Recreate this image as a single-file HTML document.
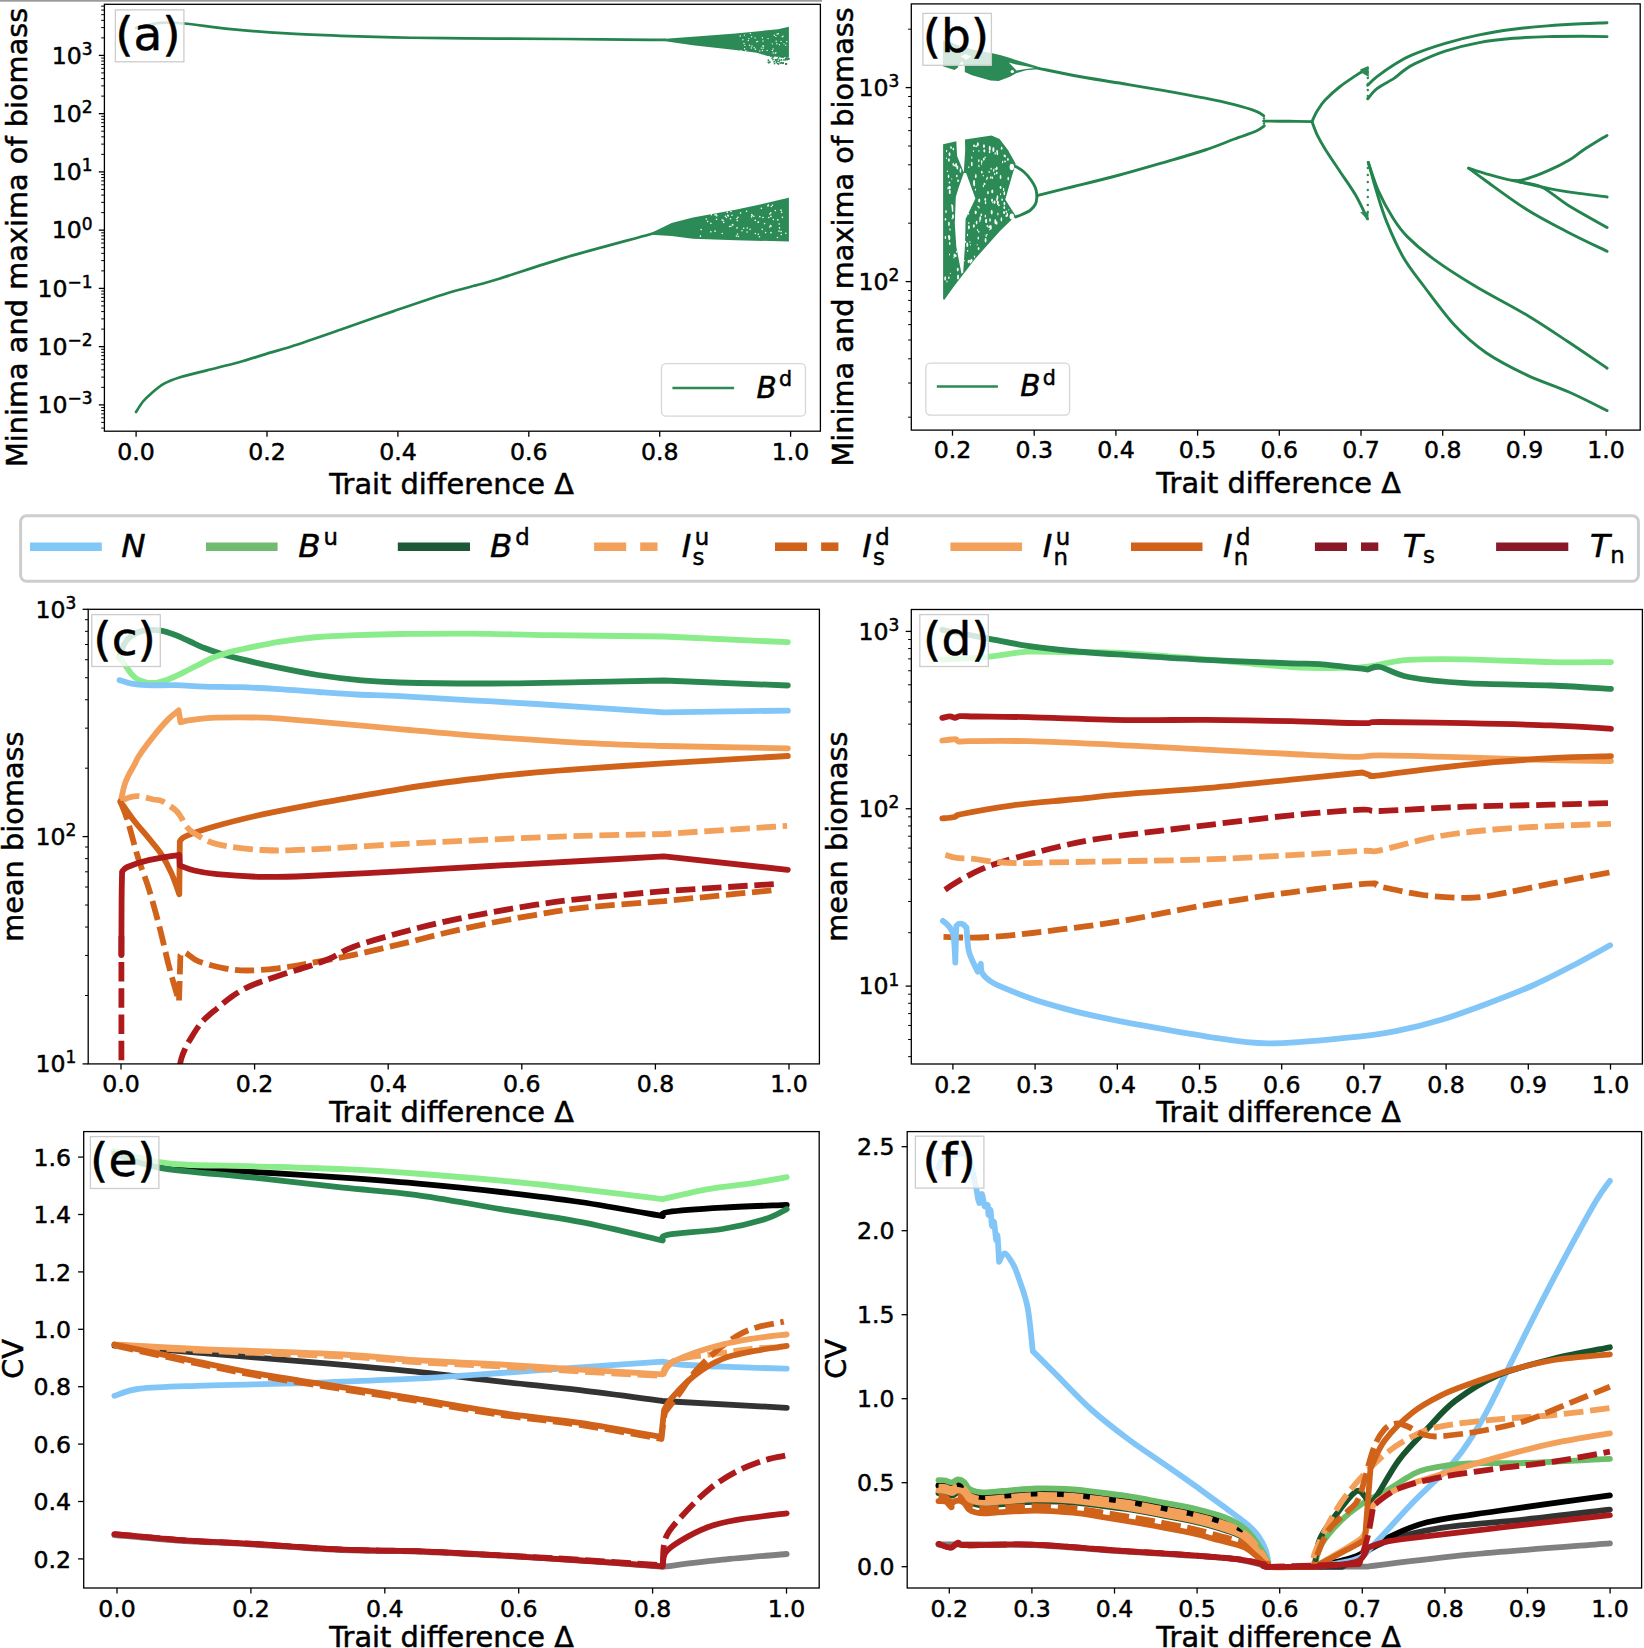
<!DOCTYPE html>
<html><head><meta charset="utf-8"><title>Figure</title>
<style>html,body{margin:0;padding:0;background:#fff;}svg{display:block;}</style>
</head><body>
<svg width="1644" height="1648" viewBox="0 0 1644 1648" font-family="'DejaVu Sans', 'Liberation Sans', sans-serif">
<style>text{fill:#000;stroke:#000;stroke-width:0.5px;stroke-linejoin:round;}</style>
<rect width="100%" height="100%" fill="#fff"/>
<rect x="0" y="0" width="822" height="1.7" fill="#9a9a9a"/>
<clipPath id="clipa"><rect x="104.4" y="4.3" width="716" height="426.9"/></clipPath>
<clipPath id="clipb"><rect x="911.3" y="3.9" width="728.9" height="426.2"/></clipPath>
<clipPath id="clipc"><rect x="88.2" y="609.3" width="731.2" height="454.6"/></clipPath>
<clipPath id="clipd"><rect x="911.3" y="609.5" width="731.1" height="454.5"/></clipPath>
<clipPath id="clipe"><rect x="83.7" y="1131.6" width="735.5" height="456.4"/></clipPath>
<clipPath id="clipf"><rect x="907.2" y="1131.6" width="734.4" height="456.4"/></clipPath>
<g clip-path="url(#clipa)">
<path d="M136.0,412.0 C137.2,410.2 140.6,404.5 143.0,401.5 C145.4,398.5 147.2,396.9 150.7,393.9 C154.2,390.9 159.2,386.5 164.1,383.7 C169.0,380.9 173.0,379.5 180.1,377.3 C187.2,375.1 197.0,372.9 206.8,370.4 C216.6,367.9 229.1,365.0 238.9,362.3 C248.7,359.6 255.8,357.1 265.6,354.1 C275.4,351.1 285.2,348.6 297.6,344.5 C310.1,340.4 324.3,335.4 340.3,329.8 C356.3,324.2 375.9,317.2 393.7,311.1 C411.5,305.0 432.7,297.7 447.1,293.2 C461.5,288.7 471.2,286.8 480.0,284.3 C488.8,281.9 485.8,282.9 500.0,278.5 C514.2,274.1 540.2,265.0 565.2,257.6 C590.2,250.2 634.2,238.7 650.3,234.2 C666.4,229.7 660.0,231.2 662.0,230.6" fill="none" stroke="#23844e" stroke-width="2.7" stroke-linejoin="round" stroke-linecap="round"/>
<path d="M136.0,28.0 C138.3,27.4 145.3,25.4 150.0,24.5 C154.7,23.6 158.4,22.9 164.1,22.7 C169.8,22.5 172.5,22.4 184.1,23.5 C195.7,24.6 216.4,27.8 233.5,29.4 C250.6,31.0 269.1,32.3 286.9,33.4 C304.7,34.5 322.5,35.1 340.3,35.8 C358.1,36.5 375.9,37.0 393.7,37.4 C411.5,37.8 429.4,38.0 447.1,38.2 C464.8,38.4 480.3,38.5 500.0,38.6 C519.7,38.7 540.2,38.8 565.2,39.0 C590.2,39.2 633.7,39.7 650.3,39.8 C666.9,39.9 662.5,39.8 665.0,39.8" fill="none" stroke="#23844e" stroke-width="2.7" stroke-linejoin="round" stroke-linecap="round"/>
<path d="M648.0,234.6 L671.6,223.0 L692.9,217.5 L735.5,209.8 L760.0,204.5 L787.6,198.0 L788.9,197.5 L788.9,241.5 L735.5,240.2 L692.9,238.8 L671.6,236.0 L655.0,235.0Z" fill="#2b8a55"/>
<path d="M648.0,39.9 L692.9,36.8 L735.5,33.6 L778.1,29.2 L788.9,26.8 L788.9,57.5 L780.0,57.0 L767.4,56.0 L756.8,52.8 L735.5,50.0 L692.9,45.2 L660.0,40.6Z" fill="#2b8a55"/>
<circle cx="773" cy="59.44" r="0.9" fill="#2b8a55"/>
<circle cx="775.77" cy="60.04" r="0.9" fill="#2b8a55"/>
<circle cx="781.14" cy="54.66" r="0.9" fill="#2b8a55"/>
<circle cx="768.28" cy="62.37" r="0.9" fill="#2b8a55"/>
<circle cx="773.45" cy="56.34" r="0.9" fill="#2b8a55"/>
<circle cx="788.91" cy="58.7" r="0.9" fill="#2b8a55"/>
<circle cx="785.57" cy="58.76" r="0.9" fill="#2b8a55"/>
<circle cx="781.42" cy="55.51" r="0.9" fill="#2b8a55"/>
<circle cx="781.33" cy="62.68" r="0.9" fill="#2b8a55"/>
<circle cx="778.99" cy="61.41" r="0.9" fill="#2b8a55"/>
<circle cx="782.1" cy="54.64" r="0.9" fill="#2b8a55"/>
<circle cx="783.92" cy="59.91" r="0.9" fill="#2b8a55"/>
<circle cx="774.33" cy="54.31" r="0.9" fill="#2b8a55"/>
<circle cx="786.18" cy="58.73" r="0.9" fill="#2b8a55"/>
<circle cx="783.1" cy="62.79" r="0.9" fill="#2b8a55"/>
<circle cx="783" cy="63.21" r="0.9" fill="#2b8a55"/>
<circle cx="776.29" cy="62.01" r="0.9" fill="#2b8a55"/>
<circle cx="777.34" cy="63.36" r="0.9" fill="#2b8a55"/>
<circle cx="786.46" cy="54.97" r="0.9" fill="#2b8a55"/>
<circle cx="770.86" cy="56.17" r="0.9" fill="#2b8a55"/>
<circle cx="788.28" cy="58.36" r="0.9" fill="#2b8a55"/>
<circle cx="781.16" cy="57.01" r="0.9" fill="#2b8a55"/>
<circle cx="778.65" cy="57.86" r="0.9" fill="#2b8a55"/>
<circle cx="775.37" cy="59.85" r="0.9" fill="#2b8a55"/>
<circle cx="780.27" cy="63.04" r="0.9" fill="#2b8a55"/>
<circle cx="782.32" cy="63.29" r="0.9" fill="#2b8a55"/>
<circle cx="785.98" cy="63.91" r="0.9" fill="#2b8a55"/>
<circle cx="782.1" cy="55.63" r="0.9" fill="#2b8a55"/>
<circle cx="786.07" cy="63.65" r="0.9" fill="#2b8a55"/>
<circle cx="787" cy="59.69" r="0.9" fill="#2b8a55"/>
<circle cx="782.99" cy="56.11" r="0.9" fill="#2b8a55"/>
<circle cx="785.46" cy="59.74" r="0.9" fill="#2b8a55"/>
<circle cx="773.98" cy="54.63" r="0.9" fill="#2b8a55"/>
<circle cx="785.93" cy="63.9" r="0.9" fill="#2b8a55"/>
<circle cx="769.86" cy="62.01" r="0.9" fill="#2b8a55"/>
<circle cx="776.62" cy="55.51" r="0.9" fill="#2b8a55"/>
<circle cx="774.17" cy="61.69" r="0.9" fill="#2b8a55"/>
<circle cx="786.33" cy="54.44" r="0.9" fill="#2b8a55"/>
<circle cx="780.91" cy="54.45" r="0.9" fill="#2b8a55"/>
<circle cx="783.09" cy="57.31" r="0.9" fill="#2b8a55"/>
<circle cx="786.5" cy="63.81" r="0.9" fill="#2b8a55"/>
<circle cx="778.61" cy="63.99" r="0.9" fill="#2b8a55"/>
<circle cx="774.5" cy="54.77" r="0.9" fill="#2b8a55"/>
<circle cx="780.6" cy="54.31" r="0.9" fill="#2b8a55"/>
<circle cx="772.15" cy="58.08" r="0.9" fill="#2b8a55"/>
<circle cx="780.82" cy="55.56" r="0.9" fill="#2b8a55"/>
<circle cx="768.89" cy="62.68" r="0.9" fill="#2b8a55"/>
<circle cx="774.59" cy="63.59" r="0.9" fill="#2b8a55"/>
<circle cx="786.83" cy="57.78" r="0.9" fill="#2b8a55"/>
<circle cx="777.67" cy="59.2" r="0.9" fill="#2b8a55"/>
<circle cx="781.52" cy="59.96" r="0.9" fill="#2b8a55"/>
<circle cx="779.74" cy="60.2" r="0.9" fill="#2b8a55"/>
<circle cx="787.75" cy="59.07" r="0.9" fill="#2b8a55"/>
<circle cx="777.06" cy="61.2" r="0.9" fill="#2b8a55"/>
<circle cx="772.99" cy="57.01" r="0.9" fill="#2b8a55"/>
<circle cx="788.53" cy="59.21" r="0.9" fill="#2b8a55"/>
<circle cx="779.52" cy="54.11" r="0.9" fill="#2b8a55"/>
<circle cx="776.72" cy="59.8" r="0.9" fill="#2b8a55"/>
<circle cx="768.42" cy="60.16" r="0.9" fill="#2b8a55"/>
<circle cx="781.28" cy="54.6" r="0.9" fill="#2b8a55"/>
<circle cx="755.21" cy="220.39" r="0.8" fill="#fff"/>
<circle cx="759.78" cy="216.64" r="0.8" fill="#fff"/>
<circle cx="762.21" cy="229.36" r="0.8" fill="#fff"/>
<circle cx="701.95" cy="207" r="0.8" fill="#fff"/>
<circle cx="759.49" cy="236.79" r="0.8" fill="#fff"/>
<circle cx="722.1" cy="220.06" r="0.8" fill="#fff"/>
<circle cx="752.16" cy="215.56" r="0.8" fill="#fff"/>
<circle cx="732.03" cy="215.32" r="0.8" fill="#fff"/>
<circle cx="732.49" cy="224.66" r="0.8" fill="#fff"/>
<circle cx="726.44" cy="217.45" r="0.8" fill="#fff"/>
<circle cx="767.96" cy="205.89" r="0.8" fill="#fff"/>
<circle cx="750.09" cy="229.26" r="0.8" fill="#fff"/>
<circle cx="727.28" cy="212.34" r="0.8" fill="#fff"/>
<circle cx="770.74" cy="212.88" r="0.8" fill="#fff"/>
<circle cx="716.49" cy="219.36" r="0.8" fill="#fff"/>
<circle cx="761.43" cy="208.36" r="0.8" fill="#fff"/>
<circle cx="728.33" cy="216.01" r="0.8" fill="#fff"/>
<circle cx="773.35" cy="219.47" r="0.8" fill="#fff"/>
<circle cx="775.29" cy="210.59" r="0.8" fill="#fff"/>
<circle cx="729.63" cy="226.46" r="0.8" fill="#fff"/>
<circle cx="777.87" cy="219.89" r="0.8" fill="#fff"/>
<circle cx="719.8" cy="208.99" r="0.8" fill="#fff"/>
<circle cx="746.61" cy="211.3" r="0.8" fill="#fff"/>
<circle cx="771" cy="232.67" r="0.8" fill="#fff"/>
<circle cx="716.16" cy="214.19" r="0.8" fill="#fff"/>
<circle cx="771.04" cy="226.18" r="0.8" fill="#fff"/>
<circle cx="770.95" cy="216.39" r="0.8" fill="#fff"/>
<circle cx="711.41" cy="214.63" r="0.8" fill="#fff"/>
<circle cx="769.86" cy="213.95" r="0.8" fill="#fff"/>
<circle cx="730.48" cy="218.76" r="0.8" fill="#fff"/>
<circle cx="736.94" cy="218.51" r="0.8" fill="#fff"/>
<circle cx="781.01" cy="210.15" r="0.8" fill="#fff"/>
<circle cx="700.41" cy="236.13" r="0.8" fill="#fff"/>
<circle cx="777.44" cy="237.57" r="0.8" fill="#fff"/>
<circle cx="738.22" cy="236.36" r="0.8" fill="#fff"/>
<circle cx="781.61" cy="212.33" r="0.8" fill="#fff"/>
<circle cx="765.61" cy="232.61" r="0.8" fill="#fff"/>
<circle cx="758.34" cy="222.13" r="0.8" fill="#fff"/>
<circle cx="725.44" cy="216.26" r="0.8" fill="#fff"/>
<circle cx="720.02" cy="207.25" r="0.8" fill="#fff"/>
<circle cx="751.8" cy="214.47" r="0.8" fill="#fff"/>
<circle cx="771.3" cy="206.49" r="0.8" fill="#fff"/>
<circle cx="779.52" cy="227.89" r="0.8" fill="#fff"/>
<circle cx="781.3" cy="234.59" r="0.8" fill="#fff"/>
<circle cx="779.17" cy="224.04" r="0.8" fill="#fff"/>
<circle cx="701.16" cy="229.59" r="0.8" fill="#fff"/>
<circle cx="715.12" cy="214.9" r="0.8" fill="#fff"/>
<circle cx="758.33" cy="222.32" r="0.8" fill="#fff"/>
<circle cx="736.41" cy="235.99" r="0.8" fill="#fff"/>
<circle cx="753.87" cy="216.26" r="0.8" fill="#fff"/>
<circle cx="722.22" cy="233.43" r="0.8" fill="#fff"/>
<circle cx="741.99" cy="230.82" r="0.8" fill="#fff"/>
<circle cx="730.96" cy="211.51" r="0.8" fill="#fff"/>
<circle cx="747.05" cy="231.95" r="0.8" fill="#fff"/>
<circle cx="715.07" cy="231.13" r="0.8" fill="#fff"/>
<circle cx="781.12" cy="231.6" r="0.8" fill="#fff"/>
<circle cx="772.47" cy="205.25" r="0.8" fill="#fff"/>
<circle cx="755.32" cy="233.46" r="0.8" fill="#fff"/>
<circle cx="704.39" cy="213.96" r="0.8" fill="#fff"/>
<circle cx="723.64" cy="222.4" r="0.8" fill="#fff"/>
<circle cx="737.22" cy="220.61" r="0.8" fill="#fff"/>
<circle cx="768.33" cy="205.06" r="0.8" fill="#fff"/>
<circle cx="704.83" cy="209.19" r="0.8" fill="#fff"/>
<circle cx="710.97" cy="207.26" r="0.8" fill="#fff"/>
<circle cx="785.77" cy="233.2" r="0.8" fill="#fff"/>
<circle cx="707.58" cy="221.57" r="0.8" fill="#fff"/>
<circle cx="727.8" cy="215.38" r="0.8" fill="#fff"/>
<circle cx="730.91" cy="226.35" r="0.8" fill="#fff"/>
<circle cx="751.62" cy="216.91" r="0.8" fill="#fff"/>
<circle cx="716.82" cy="215.85" r="0.8" fill="#fff"/>
<circle cx="710.89" cy="223.33" r="0.8" fill="#fff"/>
<circle cx="763.01" cy="217.55" r="0.8" fill="#fff"/>
<circle cx="707.03" cy="210.89" r="0.8" fill="#fff"/>
<circle cx="732.85" cy="224.95" r="0.8" fill="#fff"/>
<circle cx="768.87" cy="217.55" r="0.8" fill="#fff"/>
<circle cx="770.5" cy="225.56" r="0.8" fill="#fff"/>
<circle cx="737.98" cy="217.29" r="0.8" fill="#fff"/>
<circle cx="743.66" cy="228.2" r="0.8" fill="#fff"/>
<circle cx="737.01" cy="227.91" r="0.8" fill="#fff"/>
<circle cx="740.55" cy="213.09" r="0.8" fill="#fff"/>
<circle cx="747.15" cy="227.94" r="0.8" fill="#fff"/>
<circle cx="706.3" cy="219.02" r="0.8" fill="#fff"/>
<circle cx="737.48" cy="234.03" r="0.8" fill="#fff"/>
<circle cx="782.41" cy="217.35" r="0.8" fill="#fff"/>
<circle cx="779.01" cy="231.1" r="0.8" fill="#fff"/>
<circle cx="723.07" cy="220.32" r="0.8" fill="#fff"/>
<circle cx="710.84" cy="231.84" r="0.8" fill="#fff"/>
<circle cx="758.28" cy="234.28" r="0.8" fill="#fff"/>
<circle cx="769.74" cy="227.03" r="0.8" fill="#fff"/>
<circle cx="764.57" cy="223.61" r="0.8" fill="#fff"/>
<circle cx="744.95" cy="45.34" r="0.7" fill="#fff"/>
<circle cx="740.24" cy="36.01" r="0.7" fill="#fff"/>
<circle cx="777.17" cy="33.93" r="0.7" fill="#fff"/>
<circle cx="744.41" cy="35.09" r="0.7" fill="#fff"/>
<circle cx="782.26" cy="36.76" r="0.7" fill="#fff"/>
<circle cx="741.13" cy="50.67" r="0.7" fill="#fff"/>
<circle cx="745.82" cy="50.72" r="0.7" fill="#fff"/>
<circle cx="772.33" cy="50.56" r="0.7" fill="#fff"/>
<circle cx="785.72" cy="45.16" r="0.7" fill="#fff"/>
<circle cx="778.34" cy="33.76" r="0.7" fill="#fff"/>
<circle cx="776.84" cy="43.74" r="0.7" fill="#fff"/>
<circle cx="774.33" cy="35.24" r="0.7" fill="#fff"/>
<circle cx="775.95" cy="52.63" r="0.7" fill="#fff"/>
<circle cx="742.93" cy="39.81" r="0.7" fill="#fff"/>
<circle cx="767.07" cy="50.39" r="0.7" fill="#fff"/>
<circle cx="751.62" cy="36.78" r="0.7" fill="#fff"/>
<circle cx="752" cy="45.94" r="0.7" fill="#fff"/>
<circle cx="776.17" cy="41.27" r="0.7" fill="#fff"/>
<circle cx="757.64" cy="41.33" r="0.7" fill="#fff"/>
<circle cx="756.81" cy="41.78" r="0.7" fill="#fff"/>
<circle cx="744" cy="43.51" r="0.7" fill="#fff"/>
<circle cx="786.71" cy="41.67" r="0.7" fill="#fff"/>
<circle cx="775.88" cy="36.37" r="0.7" fill="#fff"/>
<circle cx="773.16" cy="48.88" r="0.7" fill="#fff"/>
<circle cx="772.35" cy="43.86" r="0.7" fill="#fff"/>
<circle cx="763.22" cy="46.5" r="0.7" fill="#fff"/>
<circle cx="783.08" cy="36.14" r="0.7" fill="#fff"/>
<circle cx="744.6" cy="48.71" r="0.7" fill="#fff"/>
<circle cx="784" cy="43.86" r="0.7" fill="#fff"/>
<circle cx="761.27" cy="48.1" r="0.7" fill="#fff"/>
<circle cx="748.93" cy="38.61" r="0.7" fill="#fff"/>
<circle cx="749.56" cy="45.3" r="0.7" fill="#fff"/>
<circle cx="755.11" cy="37.88" r="0.7" fill="#fff"/>
<circle cx="773.17" cy="53.02" r="0.7" fill="#fff"/>
<circle cx="754.2" cy="47.81" r="0.7" fill="#fff"/>
<circle cx="759.83" cy="50.93" r="0.7" fill="#fff"/>
<circle cx="768.06" cy="38.61" r="0.7" fill="#fff"/>
<circle cx="750.45" cy="33.49" r="0.7" fill="#fff"/>
<circle cx="763.02" cy="41.04" r="0.7" fill="#fff"/>
<circle cx="748.27" cy="40.57" r="0.7" fill="#fff"/>
<circle cx="755.46" cy="49.26" r="0.7" fill="#fff"/>
<circle cx="746.89" cy="53.82" r="0.7" fill="#fff"/>
<circle cx="763.02" cy="45.58" r="0.7" fill="#fff"/>
<circle cx="762.47" cy="50.53" r="0.7" fill="#fff"/>
<circle cx="779.44" cy="44.7" r="0.7" fill="#fff"/>
<circle cx="763.1" cy="48.13" r="0.7" fill="#fff"/>
<circle cx="781.12" cy="41.41" r="0.7" fill="#fff"/>
<circle cx="775.21" cy="53.17" r="0.7" fill="#fff"/>
<circle cx="762.43" cy="37.82" r="0.7" fill="#fff"/>
<circle cx="751.27" cy="48.07" r="0.7" fill="#fff"/>
</g>
<g clip-path="url(#clipb)">
<path d="M943.1,144.2 L956.3,141.3 L957.1,156.0 L963.8,172.5 L965.2,150.0 L965.0,139.6 L991.5,135.6 L999.6,139.0 L1008.0,150.0 L1015.7,163.8 L1012.0,176.0 L1005.3,199.6 L1010.0,207.0 L1015.7,215.7 L1000.0,231.0 L975.0,259.0 L955.0,285.0 L944.2,299.9 L943.1,299.0Z" fill="#2b8a55"/>
<path d="M963.8,173.0 L958.5,188.0 L955.8,197.0 L954.8,223.8 L956.3,246.8 L961.5,273.7 L963.2,272.4 L965.0,245.0 L965.6,219.0 L975.4,198.4 L966.1,173.0Z" fill="#fff"/>
<ellipse cx="973.86" cy="225.97" rx="0.96" ry="1.68" fill="#fff"/>
<ellipse cx="977.52" cy="230.11" rx="0.59" ry="1.08" fill="#fff"/>
<ellipse cx="950.21" cy="187.51" rx="0.55" ry="1.25" fill="#fff"/>
<ellipse cx="989.77" cy="148.28" rx="0.99" ry="2.52" fill="#fff"/>
<ellipse cx="987.16" cy="234.33" rx="0.58" ry="0.59" fill="#fff"/>
<ellipse cx="978.87" cy="150.93" rx="0.6" ry="0.83" fill="#fff"/>
<ellipse cx="945.99" cy="211.59" rx="0.72" ry="1.69" fill="#fff"/>
<ellipse cx="978.26" cy="238.04" rx="0.75" ry="1.54" fill="#fff"/>
<ellipse cx="974.18" cy="183.72" rx="1" ry="2.59" fill="#fff"/>
<ellipse cx="994.58" cy="202.06" rx="0.92" ry="1.49" fill="#fff"/>
<ellipse cx="1004.08" cy="212.5" rx="0.99" ry="1.62" fill="#fff"/>
<ellipse cx="948.82" cy="236.42" rx="0.89" ry="1.27" fill="#fff"/>
<ellipse cx="949.75" cy="191.89" rx="0.98" ry="2.17" fill="#fff"/>
<ellipse cx="951.79" cy="178.96" rx="0.55" ry="0.6" fill="#fff"/>
<ellipse cx="996.6" cy="168.65" rx="0.78" ry="1.34" fill="#fff"/>
<ellipse cx="956.59" cy="251.78" rx="0.57" ry="1.15" fill="#fff"/>
<ellipse cx="951.69" cy="205.11" rx="0.61" ry="0.87" fill="#fff"/>
<ellipse cx="958.07" cy="180.74" rx="0.89" ry="1.35" fill="#fff"/>
<ellipse cx="949.95" cy="229.41" rx="0.62" ry="1.22" fill="#fff"/>
<ellipse cx="1007.3" cy="214.56" rx="0.79" ry="1.88" fill="#fff"/>
<ellipse cx="956.07" cy="165.12" rx="0.95" ry="2.2" fill="#fff"/>
<ellipse cx="960.47" cy="170.47" rx="0.87" ry="2.18" fill="#fff"/>
<ellipse cx="971.82" cy="157.58" rx="0.52" ry="1.32" fill="#fff"/>
<ellipse cx="983.37" cy="186.02" rx="0.59" ry="1.27" fill="#fff"/>
<ellipse cx="948.54" cy="176.26" rx="0.78" ry="1.84" fill="#fff"/>
<ellipse cx="984.54" cy="184.03" rx="0.96" ry="1.27" fill="#fff"/>
<ellipse cx="973.42" cy="151.07" rx="0.59" ry="0.94" fill="#fff"/>
<ellipse cx="981.76" cy="161.74" rx="0.68" ry="1.65" fill="#fff"/>
<ellipse cx="989.62" cy="229.67" rx="0.57" ry="0.6" fill="#fff"/>
<ellipse cx="945.18" cy="278.53" rx="0.85" ry="2.16" fill="#fff"/>
<ellipse cx="945.4" cy="237.43" rx="0.74" ry="1.61" fill="#fff"/>
<ellipse cx="948.97" cy="223.91" rx="0.87" ry="2.12" fill="#fff"/>
<ellipse cx="967.22" cy="244.77" rx="0.95" ry="2.28" fill="#fff"/>
<ellipse cx="971.53" cy="260.58" rx="0.93" ry="1.79" fill="#fff"/>
<ellipse cx="985.25" cy="199.35" rx="0.79" ry="1.56" fill="#fff"/>
<ellipse cx="949.29" cy="237.91" rx="1" ry="2.4" fill="#fff"/>
<ellipse cx="992.06" cy="200.27" rx="0.87" ry="1.67" fill="#fff"/>
<ellipse cx="949.53" cy="254.53" rx="0.51" ry="1.01" fill="#fff"/>
<ellipse cx="975.74" cy="176.53" rx="0.85" ry="1.52" fill="#fff"/>
<ellipse cx="957.37" cy="167.44" rx="0.95" ry="1.96" fill="#fff"/>
<ellipse cx="965.58" cy="241.88" rx="0.6" ry="1.01" fill="#fff"/>
<ellipse cx="1002.1" cy="199.66" rx="0.79" ry="1.19" fill="#fff"/>
<ellipse cx="952.99" cy="216.47" rx="0.92" ry="2.17" fill="#fff"/>
<ellipse cx="973.74" cy="183.27" rx="0.61" ry="1.01" fill="#fff"/>
<ellipse cx="985.3" cy="216.08" rx="0.66" ry="1.54" fill="#fff"/>
<ellipse cx="1008.81" cy="209.87" rx="0.54" ry="0.56" fill="#fff"/>
<ellipse cx="1001.61" cy="148.22" rx="0.85" ry="1.63" fill="#fff"/>
<ellipse cx="964.4" cy="260.73" rx="0.51" ry="0.62" fill="#fff"/>
<ellipse cx="974.02" cy="145.71" rx="0.91" ry="1.26" fill="#fff"/>
<ellipse cx="953.3" cy="149.04" rx="0.81" ry="1.4" fill="#fff"/>
<ellipse cx="985.58" cy="240.26" rx="0.9" ry="2.29" fill="#fff"/>
<ellipse cx="989.18" cy="171.9" rx="0.74" ry="0.95" fill="#fff"/>
<ellipse cx="991.14" cy="168.86" rx="0.64" ry="0.99" fill="#fff"/>
<ellipse cx="990.02" cy="220.06" rx="0.81" ry="1.78" fill="#fff"/>
<ellipse cx="969.97" cy="260.79" rx="0.95" ry="1.09" fill="#fff"/>
<ellipse cx="952.57" cy="210.03" rx="0.81" ry="2" fill="#fff"/>
<ellipse cx="968.87" cy="227.32" rx="0.94" ry="2.14" fill="#fff"/>
<ellipse cx="1006.32" cy="211.56" rx="0.83" ry="1.1" fill="#fff"/>
<ellipse cx="958.08" cy="277" rx="0.99" ry="2.54" fill="#fff"/>
<ellipse cx="1000.48" cy="194.28" rx="0.54" ry="0.92" fill="#fff"/>
<ellipse cx="976.17" cy="146.26" rx="0.9" ry="1" fill="#fff"/>
<ellipse cx="996.79" cy="167.93" rx="0.67" ry="1.51" fill="#fff"/>
<ellipse cx="953.27" cy="164.3" rx="0.76" ry="1.64" fill="#fff"/>
<ellipse cx="1006.42" cy="215.89" rx="0.97" ry="1.11" fill="#fff"/>
<ellipse cx="986.17" cy="220.42" rx="0.92" ry="1.75" fill="#fff"/>
<ellipse cx="957.74" cy="269.62" rx="0.98" ry="1.81" fill="#fff"/>
<ellipse cx="981.82" cy="172.15" rx="0.77" ry="1.39" fill="#fff"/>
<ellipse cx="983.95" cy="146.16" rx="0.98" ry="1.8" fill="#fff"/>
<ellipse cx="970.44" cy="262.16" rx="0.78" ry="1.4" fill="#fff"/>
<ellipse cx="989.61" cy="151.89" rx="0.77" ry="1.28" fill="#fff"/>
<ellipse cx="952.38" cy="207.05" rx="0.91" ry="2.22" fill="#fff"/>
<ellipse cx="975.45" cy="189.58" rx="0.6" ry="1.18" fill="#fff"/>
<ellipse cx="1005.07" cy="161.42" rx="0.89" ry="0.92" fill="#fff"/>
<ellipse cx="956.81" cy="176.09" rx="0.84" ry="1.28" fill="#fff"/>
<ellipse cx="967.45" cy="234.96" rx="0.55" ry="1.2" fill="#fff"/>
<ellipse cx="952.1" cy="218.57" rx="0.63" ry="0.82" fill="#fff"/>
<ellipse cx="979" cy="207.52" rx="0.69" ry="1.14" fill="#fff"/>
<ellipse cx="978.94" cy="165.96" rx="0.6" ry="1.21" fill="#fff"/>
<ellipse cx="986.14" cy="221.44" rx="0.93" ry="1.83" fill="#fff"/>
<ellipse cx="1000.55" cy="176.9" rx="0.87" ry="2" fill="#fff"/>
<ellipse cx="1003.58" cy="189.38" rx="0.66" ry="1.63" fill="#fff"/>
<ellipse cx="1002.58" cy="162.09" rx="0.62" ry="1.34" fill="#fff"/>
<ellipse cx="998.92" cy="205.24" rx="0.89" ry="1.08" fill="#fff"/>
<ellipse cx="970.58" cy="244.78" rx="0.51" ry="0.67" fill="#fff"/>
<ellipse cx="1007.91" cy="159.31" rx="0.75" ry="1.67" fill="#fff"/>
<ellipse cx="977.18" cy="244.85" rx="0.59" ry="0.66" fill="#fff"/>
<ellipse cx="951.01" cy="147.62" rx="0.78" ry="1.41" fill="#fff"/>
<ellipse cx="981.54" cy="163.98" rx="0.59" ry="0.79" fill="#fff"/>
<ellipse cx="1005.17" cy="156.29" rx="0.53" ry="1.34" fill="#fff"/>
<ellipse cx="974.5" cy="256.71" rx="0.66" ry="1.16" fill="#fff"/>
<ellipse cx="978.01" cy="206.51" rx="0.8" ry="0.82" fill="#fff"/>
<ellipse cx="992.8" cy="202.8" rx="0.6" ry="0.76" fill="#fff"/>
<ellipse cx="977.83" cy="144.31" rx="0.95" ry="2.16" fill="#fff"/>
<ellipse cx="985.54" cy="202.68" rx="0.8" ry="1.45" fill="#fff"/>
<ellipse cx="997.77" cy="202.85" rx="0.95" ry="2.28" fill="#fff"/>
<ellipse cx="994.51" cy="202.86" rx="0.86" ry="0.96" fill="#fff"/>
<ellipse cx="986.15" cy="235.6" rx="0.62" ry="1.55" fill="#fff"/>
<ellipse cx="987.96" cy="192.67" rx="0.83" ry="1.59" fill="#fff"/>
<ellipse cx="979.18" cy="200.44" rx="1" ry="2.03" fill="#fff"/>
<ellipse cx="947.33" cy="171.32" rx="0.69" ry="0.8" fill="#fff"/>
<ellipse cx="980.3" cy="218.17" rx="0.98" ry="1.88" fill="#fff"/>
<ellipse cx="997.43" cy="153.43" rx="0.8" ry="1.77" fill="#fff"/>
<ellipse cx="946.98" cy="281.52" rx="0.58" ry="1.02" fill="#fff"/>
<ellipse cx="984.34" cy="150.78" rx="0.97" ry="1.63" fill="#fff"/>
<ellipse cx="978.77" cy="231.67" rx="0.68" ry="0.99" fill="#fff"/>
<ellipse cx="987.24" cy="226.1" rx="0.64" ry="1.38" fill="#fff"/>
<ellipse cx="954.33" cy="255.2" rx="0.69" ry="1.69" fill="#fff"/>
<ellipse cx="993.39" cy="149.52" rx="0.99" ry="2.5" fill="#fff"/>
<ellipse cx="948.85" cy="277.83" rx="0.71" ry="1.26" fill="#fff"/>
<ellipse cx="1008.23" cy="178.56" rx="0.76" ry="1.9" fill="#fff"/>
<ellipse cx="991.7" cy="212.25" rx="0.99" ry="2.28" fill="#fff"/>
<ellipse cx="983.84" cy="159.26" rx="0.81" ry="1.4" fill="#fff"/>
<ellipse cx="978.85" cy="160.65" rx="0.72" ry="1.49" fill="#fff"/>
<ellipse cx="974.07" cy="181.32" rx="0.79" ry="1.32" fill="#fff"/>
<ellipse cx="995.35" cy="221.61" rx="1" ry="2.52" fill="#fff"/>
<ellipse cx="992.46" cy="177.76" rx="0.56" ry="1.35" fill="#fff"/>
<ellipse cx="989.21" cy="226.73" rx="0.8" ry="1.6" fill="#fff"/>
<ellipse cx="993.72" cy="170.47" rx="0.62" ry="1.6" fill="#fff"/>
<ellipse cx="946.61" cy="151.12" rx="0.64" ry="1.07" fill="#fff"/>
<ellipse cx="985.14" cy="157.37" rx="0.77" ry="0.86" fill="#fff"/>
<ellipse cx="949.71" cy="243.44" rx="0.78" ry="1.56" fill="#fff"/>
<ellipse cx="968.63" cy="213.78" rx="0.61" ry="0.94" fill="#fff"/>
<ellipse cx="948.91" cy="159.97" rx="0.9" ry="1.81" fill="#fff"/>
<ellipse cx="994.74" cy="173.97" rx="0.71" ry="1.01" fill="#fff"/>
<ellipse cx="997.45" cy="197.34" rx="0.83" ry="2.14" fill="#fff"/>
<ellipse cx="950.4" cy="273.28" rx="0.54" ry="0.61" fill="#fff"/>
<ellipse cx="981.24" cy="214.73" rx="0.84" ry="1.25" fill="#fff"/>
<ellipse cx="995.18" cy="153.41" rx="0.61" ry="1.25" fill="#fff"/>
<ellipse cx="949.39" cy="187.57" rx="0.86" ry="1.82" fill="#fff"/>
<ellipse cx="967.61" cy="250.9" rx="0.68" ry="0.81" fill="#fff"/>
<ellipse cx="990.81" cy="227.39" rx="0.96" ry="2.4" fill="#fff"/>
<ellipse cx="1004.28" cy="207.7" rx="0.9" ry="1.34" fill="#fff"/>
<ellipse cx="996.61" cy="223.08" rx="0.92" ry="1.74" fill="#fff"/>
<ellipse cx="955.66" cy="255.84" rx="0.94" ry="1.36" fill="#fff"/>
<ellipse cx="945.47" cy="219.35" rx="0.77" ry="1.47" fill="#fff"/>
<ellipse cx="997.09" cy="151.61" rx="0.77" ry="1.75" fill="#fff"/>
<ellipse cx="949.55" cy="154.25" rx="0.87" ry="2.12" fill="#fff"/>
<ellipse cx="949.59" cy="237.12" rx="0.57" ry="1.25" fill="#fff"/>
<ellipse cx="986.83" cy="178.82" rx="0.61" ry="1.36" fill="#fff"/>
<ellipse cx="976.58" cy="222.6" rx="0.86" ry="1.84" fill="#fff"/>
<ellipse cx="1004.39" cy="203.59" rx="0.91" ry="1.89" fill="#fff"/>
<ellipse cx="978.57" cy="248.51" rx="0.9" ry="1.51" fill="#fff"/>
<ellipse cx="971.75" cy="163.93" rx="0.87" ry="2.25" fill="#fff"/>
<ellipse cx="968.78" cy="167.15" rx="0.6" ry="1.01" fill="#fff"/>
<ellipse cx="947.91" cy="188.27" rx="0.56" ry="1.14" fill="#fff"/>
<ellipse cx="995.21" cy="168.91" rx="0.53" ry="0.92" fill="#fff"/>
<ellipse cx="946.4" cy="158.3" rx="0.59" ry="0.8" fill="#fff"/>
<ellipse cx="983.26" cy="175.59" rx="0.59" ry="0.86" fill="#fff"/>
<ellipse cx="955.39" cy="255.63" rx="0.66" ry="1.23" fill="#fff"/>
<ellipse cx="997.93" cy="213.92" rx="0.63" ry="1.53" fill="#fff"/>
<ellipse cx="1004.34" cy="193.31" rx="0.77" ry="1.96" fill="#fff"/>
<ellipse cx="975.85" cy="175.15" rx="0.52" ry="1.32" fill="#fff"/>
<ellipse cx="996.89" cy="199.75" rx="0.76" ry="1.39" fill="#fff"/>
<ellipse cx="987.4" cy="177.64" rx="0.51" ry="0.89" fill="#fff"/>
<ellipse cx="968.52" cy="261.52" rx="0.86" ry="1.69" fill="#fff"/>
<ellipse cx="954.38" cy="165.54" rx="0.66" ry="0.94" fill="#fff"/>
<ellipse cx="1001.37" cy="219.42" rx="0.82" ry="2.12" fill="#fff"/>
<ellipse cx="953.94" cy="257.56" rx="0.5" ry="1.16" fill="#fff"/>
<ellipse cx="949.44" cy="182.49" rx="0.86" ry="0.99" fill="#fff"/>
<ellipse cx="975.69" cy="212.3" rx="0.98" ry="1.9" fill="#fff"/>
<ellipse cx="1000.58" cy="187.54" rx="0.89" ry="1.49" fill="#fff"/>
<ellipse cx="1004.51" cy="155.64" rx="0.91" ry="1.22" fill="#fff"/>
<ellipse cx="979.86" cy="220.85" rx="0.58" ry="1.35" fill="#fff"/>
<ellipse cx="949.02" cy="187.86" rx="0.73" ry="1.57" fill="#fff"/>
<ellipse cx="967.74" cy="245.06" rx="0.55" ry="0.9" fill="#fff"/>
<ellipse cx="990.86" cy="177.62" rx="0.78" ry="1.36" fill="#fff"/>
<ellipse cx="996.76" cy="173.01" rx="0.81" ry="1.18" fill="#fff"/>
<ellipse cx="968.82" cy="222.97" rx="0.65" ry="1" fill="#fff"/>
<ellipse cx="969.89" cy="242" rx="0.63" ry="0.83" fill="#fff"/>
<ellipse cx="992.28" cy="191.41" rx="0.97" ry="1.85" fill="#fff"/>
<ellipse cx="1011.8" cy="167" rx="2.2" ry="3.2" fill="#fff"/><ellipse cx="1011.8" cy="216.5" rx="2.2" ry="3.0" fill="#fff"/>
<path d="M942.9,40.5 L951.0,42.3 L960.4,46.2 L975.8,50.3 L991.1,53.0 L1000.0,55.1 L1008.6,57.6 L1016.0,60.0 L1026.0,63.0 L1037.4,66.6 L1037.4,69.2 L1026.0,70.3 L1016.0,73.2 L1010.0,76.8 L998.6,81.0 L990.5,80.4 L972.0,75.2 L964.8,72.0 L964.8,66.0 L961.9,60.9 L958.4,66.0 L957.9,67.6 L954.6,69.9 L942.9,66.2Z" fill="#2b8a55"/>
<path d="M960.4,56.2 L965.5,54.0 L971.4,56.5 L966.3,59.8 Z" fill="#fff"/>
<path d="M1008.8,62.6 L1016,64.4 L1026,66.3 L1034.5,67.9 L1026,68.9 L1016.5,70.6 Z" fill="#fff"/><ellipse cx="1012.3" cy="71.6" rx="1.7" ry="1.5" fill="#fff"/>
<path d="M1037.4,68.1 C1043.5,69.3 1060.4,73.0 1073.8,75.5 C1087.2,78.0 1103.0,80.4 1117.6,82.8 C1132.2,85.2 1146.8,87.5 1161.4,90.1 C1176.0,92.7 1193.0,95.8 1205.2,98.2 C1217.4,100.6 1225.9,102.5 1234.4,104.7 C1242.9,106.9 1251.4,109.5 1256.3,111.3 C1261.2,113.1 1262.4,115.0 1263.6,115.7" fill="none" stroke="#23844e" stroke-width="2.9" stroke-linejoin="round" stroke-linecap="round"/>
<path d="M1015.7,166.5 C1017.1,167.4 1021.5,169.8 1024.0,172.0 C1026.5,174.2 1029.1,177.3 1031.0,180.0 C1032.9,182.7 1034.5,185.4 1035.5,188.0 C1036.5,190.6 1036.8,194.2 1037.0,195.5" fill="none" stroke="#23844e" stroke-width="2.9" stroke-linejoin="round" stroke-linecap="round"/>
<path d="M1037.0,196.0 C1036.8,197.3 1036.7,201.6 1035.5,204.0 C1034.3,206.4 1032.2,208.8 1030.0,210.5 C1027.8,212.2 1024.4,213.4 1022.0,214.5 C1019.6,215.6 1016.8,216.5 1015.7,216.9" fill="none" stroke="#23844e" stroke-width="2.9" stroke-linejoin="round" stroke-linecap="round"/>
<path d="M1037.0,195.6 C1043.1,194.1 1060.4,189.8 1073.8,186.5 C1087.2,183.2 1103.0,179.4 1117.6,175.5 C1132.2,171.6 1146.8,167.3 1161.4,163.1 C1176.0,158.8 1193.0,154.0 1205.2,150.0 C1217.4,146.0 1225.9,142.2 1234.4,139.0 C1242.9,135.8 1251.3,133.2 1256.3,131.0 C1261.3,128.8 1263.0,126.8 1264.3,125.9" fill="none" stroke="#23844e" stroke-width="2.9" stroke-linejoin="round" stroke-linecap="round"/>
<path d="M1263.6,121.1 C1268.0,121.1 1281.9,121.2 1290.0,121.3 C1298.1,121.4 1308.3,121.5 1312.0,121.6" fill="none" stroke="#23844e" stroke-width="2.9" stroke-linejoin="round" stroke-linecap="round"/>
<path d="M1312.0,121.5 C1312.9,119.7 1315.1,114.3 1317.3,110.8 C1319.5,107.2 1321.1,104.2 1324.9,100.2 C1328.7,96.2 1335.0,90.5 1340.1,86.5 C1345.2,82.5 1350.7,79.0 1355.3,75.9 C1359.9,72.9 1365.5,69.5 1367.5,68.2" fill="none" stroke="#23844e" stroke-width="2.9" stroke-linejoin="round" stroke-linecap="round"/>
<path d="M1312.0,121.7 C1312.9,124.0 1315.1,130.7 1317.3,135.2 C1319.5,139.7 1321.1,142.7 1324.9,148.8 C1328.7,154.9 1335.0,164.1 1340.1,171.7 C1345.2,179.3 1350.7,186.7 1355.3,194.5 C1359.9,202.3 1365.5,214.8 1367.5,218.8" fill="none" stroke="#23844e" stroke-width="2.9" stroke-linejoin="round" stroke-linecap="round"/>
<path d="M1367.7,85.2 C1369.2,83.8 1372.6,80.0 1377.0,76.6 C1381.4,73.2 1388.3,68.2 1394.0,64.7 C1399.7,61.2 1402.6,59.0 1411.1,55.4 C1419.6,51.8 1433.8,46.8 1445.2,43.4 C1456.6,40.0 1467.9,37.2 1479.2,34.9 C1490.5,32.5 1501.9,30.8 1513.3,29.3 C1524.7,27.8 1536.1,26.8 1547.4,25.9 C1558.8,25.0 1571.5,24.3 1581.4,23.8 C1591.3,23.3 1602.7,23.0 1607.0,22.8" fill="none" stroke="#23844e" stroke-width="2.9" stroke-linejoin="round" stroke-linecap="round"/>
<path d="M1367.7,98.8 C1369.2,97.1 1372.6,92.0 1377.0,88.6 C1381.4,85.2 1389.7,81.2 1394.0,78.4 C1398.3,75.6 1399.2,73.9 1402.6,71.5 C1406.0,69.1 1407.4,67.3 1414.5,63.9 C1421.6,60.5 1434.4,54.6 1445.2,51.1 C1456.0,47.6 1467.9,44.7 1479.2,42.6 C1490.5,40.5 1501.9,39.3 1513.3,38.3 C1524.7,37.3 1536.1,36.9 1547.4,36.6 C1558.8,36.3 1571.5,36.3 1581.4,36.3 C1591.3,36.3 1602.7,36.5 1607.0,36.6" fill="none" stroke="#23844e" stroke-width="2.9" stroke-linejoin="round" stroke-linecap="round"/>
<path d="M1368.3,162.4 C1370.0,167.2 1374.5,182.1 1378.6,191.4 C1382.7,200.7 1388.3,210.7 1393.1,218.3 C1397.9,225.9 1400.6,230.0 1407.5,236.9 C1414.4,243.8 1423.0,251.3 1434.4,259.6 C1445.8,267.9 1460.3,277.2 1475.8,286.5 C1491.3,295.8 1512.0,306.2 1527.5,315.5 C1543.0,324.8 1555.6,333.5 1568.9,342.3 C1582.2,351.1 1600.7,363.9 1607.1,368.2" fill="none" stroke="#23844e" stroke-width="2.9" stroke-linejoin="round" stroke-linecap="round"/>
<path d="M1368.3,162.4 C1369.7,167.2 1373.4,181.4 1376.5,191.4 C1379.6,201.4 1382.4,211.4 1386.9,222.4 C1391.4,233.4 1397.2,246.8 1403.4,257.5 C1409.6,268.2 1415.5,275.1 1424.1,286.5 C1432.7,297.9 1444.8,314.8 1455.1,325.8 C1465.4,336.8 1474.0,344.4 1486.1,352.7 C1498.2,361.0 1513.7,368.8 1527.5,375.4 C1541.3,381.9 1555.6,386.1 1568.9,392.0 C1582.2,397.9 1600.7,407.5 1607.1,410.6" fill="none" stroke="#23844e" stroke-width="2.9" stroke-linejoin="round" stroke-linecap="round"/>
<path d="M1468.6,168.2 C1471.5,169.1 1478.7,171.8 1486.1,173.8 C1493.5,175.9 1506.1,179.7 1513.0,180.5 C1519.9,181.3 1521.6,180.1 1527.5,178.5 C1533.4,176.9 1541.3,173.7 1548.2,170.7 C1555.1,167.7 1563.0,163.8 1568.9,160.3 C1574.8,156.9 1577.1,154.2 1583.4,150.0 C1589.8,145.8 1603.1,137.8 1607.0,135.4" fill="none" stroke="#23844e" stroke-width="2.9" stroke-linejoin="round" stroke-linecap="round"/>
<path d="M1513.0,180.5 C1518.9,181.8 1537.2,186.2 1548.2,188.3 C1559.2,190.5 1569.4,192.0 1579.2,193.4 C1589.0,194.8 1602.4,196.4 1607.1,197.0" fill="none" stroke="#23844e" stroke-width="2.9" stroke-linejoin="round" stroke-linecap="round"/>
<path d="M1520.0,182.0 C1523.7,182.9 1533.8,183.2 1542.0,187.2 C1550.2,191.2 1558.1,199.1 1568.9,205.8 C1579.8,212.5 1600.7,224.0 1607.1,227.6" fill="none" stroke="#23844e" stroke-width="2.9" stroke-linejoin="round" stroke-linecap="round"/>
<path d="M1468.6,168.2 C1471.5,170.3 1476.3,174.0 1486.1,181.0 C1495.9,188.0 1513.7,201.4 1527.5,210.0 C1541.3,218.6 1555.6,225.8 1568.9,232.7 C1582.2,239.6 1600.7,248.2 1607.1,251.3" fill="none" stroke="#23844e" stroke-width="2.9" stroke-linejoin="round" stroke-linecap="round"/>
<path d="M1360.0,69.5 L1368.5,66.0 L1368.8,77.0 L1362.0,73.0Z" fill="#2b8a55"/>
<path d="M1360.0,212.0 L1368.5,212.5 L1368.3,220.5Z" fill="#2b8a55"/>
<circle cx="1367.8" cy="72" r="1.2" fill="#2b8a55"/>
<circle cx="1367.8" cy="78" r="1.2" fill="#2b8a55"/>
<circle cx="1367.8" cy="84" r="1.2" fill="#2b8a55"/>
<circle cx="1367.8" cy="90" r="1.2" fill="#2b8a55"/>
<circle cx="1367.8" cy="96" r="1.2" fill="#2b8a55"/>
<circle cx="1367.8" cy="168" r="1.2" fill="#2b8a55"/>
<circle cx="1367.8" cy="175" r="1.2" fill="#2b8a55"/>
<circle cx="1367.8" cy="182" r="1.2" fill="#2b8a55"/>
<circle cx="1367.8" cy="190" r="1.2" fill="#2b8a55"/>
<circle cx="1367.8" cy="197" r="1.2" fill="#2b8a55"/>
<circle cx="1367.8" cy="205" r="1.2" fill="#2b8a55"/>
<circle cx="1367.8" cy="212" r="1.2" fill="#2b8a55"/>
<circle cx="1264.0" cy="116" r="1.2" fill="#2b8a55"/>
<circle cx="1264.0" cy="118.5" r="1.2" fill="#2b8a55"/>
<circle cx="1264.0" cy="123.5" r="1.2" fill="#2b8a55"/>
<circle cx="1264.0" cy="126" r="1.2" fill="#2b8a55"/>
</g>
<g clip-path="url(#clipc)"><path d="M119.3,657.5 C120.2,655.2 122.3,647.3 124.4,643.7 C126.5,640.1 128.5,637.9 131.7,635.7 C134.8,633.5 138.5,631.5 143.3,630.6 C148.2,629.8 155.5,629.9 160.8,630.6 C166.2,631.3 170.6,633.2 175.4,635.0 C180.2,636.8 185.1,639.3 189.9,641.5 C194.8,643.7 199.7,646.1 204.5,648.0 C209.3,649.9 213.1,651.3 219.0,653.1 C224.9,654.9 230.0,656.5 240.0,658.9 C250.0,661.3 265.9,665.0 278.9,667.7 C291.9,670.4 304.9,673.0 317.9,675.0 C330.9,677.0 343.2,678.6 356.8,679.9 C370.4,681.1 377.0,681.9 399.3,682.5 C421.6,683.1 460.2,683.6 490.6,683.5 C521.0,683.4 552.9,682.6 581.8,682.1 C610.7,681.6 650.4,680.8 664.1,680.5 L787.8,685.5" fill="none" stroke="#2a8750" stroke-width="5.8" stroke-linejoin="round" stroke-linecap="round"/>
<path d="M119.3,657.5 C120.2,658.6 122.3,661.3 124.4,664.1 C126.5,666.9 129.3,671.6 131.7,674.3 C134.1,677.0 135.4,678.6 139.0,680.1 C142.6,681.6 148.7,683.1 153.5,683.0 C158.3,682.9 163.2,681.1 168.1,679.4 C172.9,677.7 177.8,675.1 182.6,672.8 C187.4,670.5 192.3,667.9 197.2,665.5 C202.1,663.1 207.0,660.3 211.8,658.2 C216.7,656.1 221.6,654.5 226.3,653.1 C231.0,651.7 231.2,651.6 240.0,649.7 C248.8,647.8 265.9,644.0 278.9,641.9 C291.9,639.8 304.9,638.1 317.9,637.0 C330.9,635.9 343.1,635.6 356.8,635.1 C370.5,634.6 381.0,634.2 400.0,634.0 C419.0,633.8 446.0,633.4 471.0,633.6 C496.0,633.8 517.8,634.6 550.0,635.1 C582.2,635.6 645.1,636.3 664.1,636.5 L787.8,642.2" fill="none" stroke="#8aec8a" stroke-width="5.8" stroke-linejoin="round" stroke-linecap="round"/>
<path d="M119.5,680.1 C121.5,680.7 127.2,682.9 131.7,683.7 C136.1,684.6 138.9,685.0 146.2,685.2 C153.5,685.5 165.7,685.0 175.4,685.2 C185.1,685.4 193.7,686.3 204.5,686.6 C215.3,686.9 227.6,686.8 240.0,687.2 C252.4,687.6 265.9,688.3 278.9,689.1 C291.9,689.9 304.9,691.1 317.9,692.0 C330.9,692.9 343.1,693.8 356.8,694.5 C370.5,695.2 381.0,695.2 400.0,696.2 C419.0,697.2 448.3,699.0 471.0,700.3 C493.7,701.6 504.0,702.0 536.2,704.0 C568.4,706.0 642.8,711.0 664.1,712.4 L787.8,710.6" fill="none" stroke="#82c6f8" stroke-width="5.8" stroke-linejoin="round" stroke-linecap="round"/>
<path d="M120.8,801.0 C121.4,798.3 123.2,789.4 124.5,785.0 C125.8,780.6 127.1,778.2 128.8,774.7 C130.5,771.2 133.0,767.4 134.7,764.2 C136.4,761.1 135.9,760.3 139.0,755.8 C142.1,751.2 148.2,743.0 153.0,736.9 C157.8,730.8 163.8,723.8 168.1,719.4 C172.4,715.0 176.8,711.9 178.6,710.4 L180.5,722.3 C182.1,721.9 183.8,720.9 189.9,720.1 C196.0,719.3 204.8,718.1 216.9,717.7 C229.0,717.3 247.3,717.2 262.5,717.7 C277.7,718.2 285.3,719.0 308.1,720.9 C330.9,722.8 368.9,726.4 399.3,729.1 C429.7,731.8 460.2,734.6 490.6,736.9 C521.0,739.2 552.9,741.3 581.8,742.8 C610.7,744.3 650.3,745.5 664.0,746.0 L787.8,748.3" fill="none" stroke="#f2a05a" stroke-width="5.8" stroke-linejoin="round" stroke-linecap="round"/>
<path d="M120.3,801.5 C122.5,804.6 128.8,813.9 133.5,820.0 C138.2,826.1 144.1,832.6 148.7,838.2 C153.2,843.8 157.0,847.6 160.8,853.4 C164.6,859.2 168.3,866.3 171.4,873.1 C174.5,879.9 178.0,890.8 179.3,894.3 L179.8,841.2 C180.9,840.3 180.4,838.4 186.6,835.8 C192.8,833.2 204.2,829.4 216.9,825.8 C229.6,822.2 247.3,817.8 262.5,814.4 C277.7,811.0 292.9,808.2 308.1,805.3 C323.3,802.4 338.5,799.8 353.7,797.1 C368.9,794.4 384.1,791.7 399.3,789.3 C414.5,786.9 429.8,784.5 445.0,782.5 C460.2,780.5 475.4,778.7 490.6,777.0 C505.8,775.3 521.0,773.8 536.2,772.4 C551.4,771.0 560.5,770.3 581.8,768.8 C603.1,767.3 650.3,764.2 664.0,763.3 L787.8,756.0" fill="none" stroke="#d0621a" stroke-width="5.8" stroke-linejoin="round" stroke-linecap="round"/>
<path d="M120.8,801.0 C122.3,800.4 126.9,798.0 130.0,797.2 C133.1,796.4 135.4,795.8 139.3,796.2 C143.2,796.6 149.7,798.7 153.5,799.5 C157.3,800.3 158.4,799.5 162.1,801.2 C165.8,803.0 172.2,807.3 175.4,810.0 C178.6,812.7 179.4,814.7 181.2,817.4 C183.0,820.1 183.8,823.4 186.0,826.0 C188.2,828.6 188.9,830.2 194.1,833.2 C199.2,836.2 205.5,841.3 216.9,844.1 C228.3,846.9 247.3,849.1 262.5,850.0 C277.7,850.9 285.3,850.5 308.1,849.5 C330.9,848.5 368.9,845.8 399.3,844.1 C429.7,842.4 460.2,840.9 490.6,839.5 C521.0,838.1 552.9,836.8 581.8,835.9 C610.7,835.0 650.3,834.3 664.0,834.0 L787.1,825.8" fill="none" stroke="#f2a05a" stroke-width="5.8" stroke-linejoin="round" stroke-linecap="butt" stroke-dasharray="19.5 6.7"/>
<path d="M120.3,801.5 C121.5,804.6 124.4,810.6 127.4,820.0 C130.4,829.4 134.6,846.5 138.1,857.9 C141.6,869.3 145.2,876.9 148.7,888.3 C152.2,899.7 156.0,913.6 159.3,926.2 C162.6,938.8 165.8,953.8 168.4,964.1 C171.0,974.4 173.2,981.8 175.0,988.0 C176.8,994.2 178.3,999.2 179.0,1001.5 L180.4,955.3 C181.2,954.8 181.9,951.5 184.9,952.5 C187.9,953.5 192.0,958.8 198.6,961.4 C205.2,964.0 216.4,966.8 224.5,968.3 C232.6,969.8 238.4,970.5 247.3,970.5 C256.2,970.5 267.6,969.5 277.7,968.3 C287.8,967.1 295.4,965.7 308.1,963.5 C320.8,961.3 338.5,958.1 353.7,954.9 C368.9,951.7 384.1,948.0 399.3,944.4 C414.5,940.8 429.8,936.6 445.0,933.0 C460.2,929.4 475.4,926.0 490.6,923.0 C505.8,920.0 521.0,917.3 536.2,914.8 C551.4,912.3 560.5,910.2 581.8,907.9 C603.1,905.6 650.3,902.2 664.0,901.1 L778.0,889.7" fill="none" stroke="#d0621a" stroke-width="5.8" stroke-linejoin="round" stroke-linecap="butt" stroke-dasharray="19.5 6.7"/>
<path d="M121.4,955.0 C121.4,945.8 121.5,913.9 121.6,900.0 C121.7,886.1 122.0,876.3 122.1,871.6 C123.0,870.8 123.0,868.9 127.4,867.0 C131.8,865.1 140.0,862.2 148.7,860.2 C157.3,858.2 174.2,855.8 179.3,854.9 L179.8,865.5 C182.2,866.3 188.0,869.0 194.2,870.5 C200.4,872.0 205.5,873.1 216.9,874.2 C228.3,875.3 247.3,876.6 262.5,876.9 C277.7,877.2 285.3,876.9 308.1,876.0 C330.9,875.1 368.9,873.1 399.3,871.4 C429.7,869.7 460.2,867.7 490.6,866.0 C521.0,864.3 552.9,862.6 581.8,861.0 C610.7,859.4 650.3,857.2 664.0,856.4 L787.8,869.8" fill="none" stroke="#ac1a1c" stroke-width="5.8" stroke-linejoin="round" stroke-linecap="round"/>
<path d="M121.4,935.9 L121.4,1068.0" fill="none" stroke="#ac1a1c" stroke-width="5.8" stroke-linejoin="round" stroke-linecap="butt" stroke-dasharray="19.5 6.7"/>
<path d="M179.5,1067.0 C179.8,1065.5 180.6,1061.0 181.5,1058.0 C182.4,1055.0 183.7,1051.9 185.0,1049.0 C186.3,1046.1 186.7,1045.0 189.5,1040.5 C192.3,1036.0 197.1,1027.6 201.7,1022.3 C206.3,1017.0 211.8,1012.9 216.9,1008.6 C222.0,1004.3 227.0,1000.0 232.1,996.4 C237.2,992.8 242.2,989.8 247.3,987.3 C252.4,984.8 256.2,983.5 262.5,981.2 C268.8,978.9 277.7,976.1 285.3,973.6 C292.9,971.1 300.7,969.0 308.1,966.5 C315.6,964.0 322.4,961.8 330.0,958.5 C337.6,955.2 342.1,951.0 353.7,946.7 C365.2,942.5 384.1,937.2 399.3,933.0 C414.5,928.8 429.8,925.0 445.0,921.6 C460.2,918.2 475.4,915.3 490.6,912.5 C505.8,909.7 521.0,907.0 536.2,904.7 C551.4,902.4 560.5,901.1 581.8,898.8 C603.1,896.5 650.3,892.4 664.0,891.1 L778.0,883.8" fill="none" stroke="#ac1a1c" stroke-width="5.8" stroke-linejoin="round" stroke-linecap="butt" stroke-dasharray="19.5 6.7"/></g>
<g clip-path="url(#clipd)"><path d="M942.3,659.7 C949.9,659.2 974.0,658.1 988.2,656.8 C1002.4,655.5 1013.7,652.4 1027.5,651.7 C1041.3,651.0 1055.8,652.2 1071.2,652.4 C1086.6,652.6 1097.6,651.6 1120.0,652.8 C1142.4,653.9 1177.0,656.9 1205.5,659.3 C1234.0,661.7 1267.3,665.6 1291.1,667.0 C1314.9,668.4 1334.8,668.0 1348.1,667.9 C1361.4,667.8 1367.1,666.5 1370.9,666.2 C1377.2,665.2 1392.7,661.0 1408.5,659.9 C1424.3,658.8 1441.8,658.9 1465.5,659.3 C1489.2,659.7 1526.8,661.6 1551.0,662.1 C1575.2,662.6 1600.9,662.1 1610.9,662.1" fill="none" stroke="#8aec8a" stroke-width="5.8" stroke-linejoin="round" stroke-linecap="round"/>
<path d="M942.3,629.8 C949.9,631.3 974.0,635.9 988.2,638.6 C1002.4,641.3 1013.7,643.8 1027.5,645.9 C1041.3,648.0 1054.0,649.4 1071.2,651.0 C1088.5,652.6 1108.6,653.8 1131.0,655.3 C1153.4,656.8 1178.8,658.6 1205.5,659.9 C1232.2,661.2 1272.1,662.6 1291.1,663.3 C1310.1,664.0 1306.8,663.2 1319.6,664.2 C1332.4,665.2 1359.9,668.6 1368.0,669.5 C1370.0,669.1 1373.2,665.8 1380.0,667.0 C1386.8,668.2 1394.2,674.3 1408.5,677.0 C1422.8,679.7 1441.8,681.8 1465.5,683.2 C1489.2,684.6 1526.8,684.5 1551.0,685.5 C1575.2,686.5 1600.9,688.3 1610.9,688.9" fill="none" stroke="#2a8750" stroke-width="5.8" stroke-linejoin="round" stroke-linecap="round"/>
<path d="M942.3,717.9 C943.6,717.6 947.9,716.3 950.0,716.3 C952.1,716.3 953.3,717.8 955.0,717.8 C956.7,717.8 956.4,716.4 960.0,716.2 C963.6,716.0 965.2,716.3 976.5,716.5 C987.8,716.7 1001.8,716.6 1027.5,717.2 C1053.2,717.8 1101.3,719.7 1131.0,720.1 C1160.7,720.5 1178.8,719.6 1205.5,719.8 C1232.2,720.0 1264.9,720.6 1291.1,721.2 C1317.2,721.8 1347.6,723.1 1362.4,723.2 C1377.2,723.3 1362.8,722.0 1380.0,722.0 C1397.2,722.0 1437.0,722.6 1465.5,723.2 C1494.0,723.8 1526.8,724.5 1551.0,725.4 C1575.2,726.3 1600.9,728.2 1610.9,728.8" fill="none" stroke="#ac1a1c" stroke-width="5.8" stroke-linejoin="round" stroke-linecap="round"/>
<path d="M942.3,740.5 C943.8,740.3 948.7,739.7 951.0,739.5 C953.3,739.3 954.9,738.9 956.1,739.3 C957.4,739.6 956.3,741.3 958.5,741.6 C960.7,741.9 957.7,741.3 969.2,741.2 C980.7,741.1 1000.5,740.5 1027.5,741.2 C1054.5,741.9 1101.3,744.2 1131.0,745.6 C1160.7,747.0 1178.8,748.3 1205.5,749.7 C1232.2,751.1 1265.9,752.8 1291.1,754.0 C1316.3,755.2 1341.9,756.6 1356.7,756.8 C1371.5,757.0 1361.9,755.3 1380.0,755.4 C1398.1,755.5 1437.0,756.6 1465.5,757.4 C1494.0,758.2 1526.8,759.6 1551.0,760.2 C1575.2,760.8 1600.9,761.0 1610.9,761.1" fill="none" stroke="#f2a05a" stroke-width="5.8" stroke-linejoin="round" stroke-linecap="round"/>
<path d="M942.3,818.4 C944.4,818.2 951.4,817.7 954.7,817.0 C958.0,816.3 952.3,816.0 962.0,814.0 C971.7,812.0 994.7,807.7 1012.9,805.3 C1031.1,802.9 1051.5,801.4 1071.2,799.5 C1090.9,797.6 1108.6,795.6 1131.0,793.7 C1153.4,791.8 1178.8,790.6 1205.5,788.2 C1232.2,785.9 1264.9,782.2 1291.1,779.6 C1317.2,777.0 1350.5,773.7 1362.4,772.5 L1370.9,775.4 C1372.4,775.4 1364.2,777.1 1380.0,775.3 C1395.8,773.5 1437.0,767.6 1465.5,764.8 C1494.0,761.9 1526.8,759.6 1551.0,758.2 C1575.2,756.8 1600.9,756.5 1610.9,756.2" fill="none" stroke="#d0621a" stroke-width="5.8" stroke-linejoin="round" stroke-linecap="round"/>
<path d="M945.1,889.8 C947.0,888.5 950.8,885.5 956.5,882.2 C962.2,878.9 971.7,873.5 979.3,870.1 C986.9,866.7 993.1,864.5 1002.0,861.7 C1010.9,858.9 1022.3,856.0 1032.4,853.4 C1042.5,850.8 1052.6,848.1 1062.7,845.8 C1072.8,843.5 1081.7,841.6 1093.1,839.7 C1104.5,837.8 1112.3,836.8 1131.0,834.4 C1149.7,832.0 1178.8,828.5 1205.5,825.3 C1232.2,822.1 1264.9,817.9 1291.1,815.3 C1317.2,812.7 1347.6,810.3 1362.4,809.6 C1377.2,808.9 1362.8,811.5 1380.0,811.0 C1397.2,810.5 1437.0,807.8 1465.5,806.7 C1494.0,805.7 1526.8,805.3 1551.0,804.7 C1575.2,804.1 1600.9,803.3 1610.9,803.0" fill="none" stroke="#ac1a1c" stroke-width="5.8" stroke-linejoin="round" stroke-linecap="butt" stroke-dasharray="19.5 6.7"/>
<path d="M945.4,854.9 C947.2,855.4 952.1,857.3 956.5,857.9 C960.9,858.5 965.4,858.1 971.7,858.7 C978.0,859.3 986.8,861.0 994.4,861.7 C1002.0,862.5 1008.4,863.1 1017.2,863.2 C1026.0,863.3 1034.8,862.8 1047.5,862.5 C1060.2,862.2 1079.2,862.0 1093.1,861.7 C1107.0,861.5 1112.3,861.4 1131.0,861.0 C1149.7,860.6 1178.8,860.5 1205.5,859.5 C1232.2,858.5 1264.9,856.6 1291.1,855.2 C1317.2,853.8 1347.6,851.7 1362.4,850.9 C1377.2,850.1 1367.6,852.7 1380.0,850.3 C1392.4,847.9 1418.0,840.1 1437.0,836.6 C1456.0,833.1 1475.0,831.2 1494.0,829.5 C1513.0,827.8 1531.5,827.1 1551.0,826.1 C1570.5,825.1 1600.9,824.2 1610.9,823.8" fill="none" stroke="#f2a05a" stroke-width="5.8" stroke-linejoin="round" stroke-linecap="butt" stroke-dasharray="19.5 6.7"/>
<path d="M943.5,936.8 C948.2,936.9 962.0,937.7 971.7,937.6 C981.5,937.5 991.9,936.9 1002.0,936.1 C1012.1,935.3 1022.3,934.1 1032.4,933.0 C1042.5,931.9 1052.6,930.5 1062.7,929.2 C1072.8,927.9 1081.7,927.0 1093.1,925.4 C1104.5,923.8 1112.3,922.8 1131.0,919.4 C1149.7,916.0 1178.8,909.6 1205.5,905.1 C1232.2,900.6 1264.0,895.9 1291.1,892.3 C1318.2,888.7 1353.3,884.7 1368.1,883.7 C1382.9,882.7 1370.9,884.6 1380.0,886.5 C1389.1,888.4 1408.5,893.1 1422.8,895.0 C1437.0,896.9 1453.6,897.9 1465.5,897.9 C1477.4,897.9 1479.8,897.4 1494.0,895.0 C1508.2,892.6 1531.5,887.4 1551.0,883.6 C1570.5,879.8 1600.9,874.1 1610.9,872.2" fill="none" stroke="#d0621a" stroke-width="5.8" stroke-linejoin="round" stroke-linecap="butt" stroke-dasharray="19.5 6.7"/>
<path d="M942.9,920.9 C943.9,921.8 947.1,923.7 948.9,926.2 C950.7,928.7 952.4,929.9 953.5,936.0 C954.6,942.1 955.0,958.2 955.3,962.6 L956.3,926.0 C956.8,925.6 958.0,924.1 959.0,923.8 C960.0,923.5 961.4,923.6 962.6,924.2 C963.9,924.8 965.9,927.0 966.5,927.5 C966.9,931.3 967.3,944.1 968.7,950.5 C970.1,956.9 973.2,962.2 974.7,965.7 C976.2,969.2 977.3,970.7 977.8,971.7 L980.8,963.7 C981.0,965.3 980.8,970.4 982.3,973.2 C983.8,976.1 986.1,978.3 989.9,980.8 C993.7,983.3 998.0,985.4 1005.1,988.4 C1012.2,991.4 1022.8,995.7 1032.4,999.0 C1042.0,1002.3 1052.6,1005.3 1062.7,1008.1 C1072.8,1010.9 1081.7,1013.2 1093.1,1015.7 C1104.5,1018.2 1112.3,1019.9 1131.0,1023.3 C1149.7,1026.7 1182.6,1032.9 1205.5,1036.3 C1228.4,1039.7 1244.5,1043.2 1268.3,1043.4 C1292.1,1043.6 1326.8,1039.8 1348.1,1037.7 C1369.3,1035.7 1380.2,1034.1 1395.8,1031.1 C1411.3,1028.1 1426.2,1024.3 1441.4,1019.7 C1456.6,1015.1 1471.9,1009.4 1487.1,1003.7 C1502.3,998.0 1517.5,992.3 1532.7,985.5 C1547.9,978.7 1565.4,969.4 1578.3,962.7 C1591.2,956.0 1604.9,948.2 1610.2,945.3" fill="none" stroke="#82c6f8" stroke-width="5.8" stroke-linejoin="round" stroke-linecap="round"/></g>
<g clip-path="url(#clipe)"><path d="M114.4,1535.0 C124.8,1535.9 153.7,1538.9 177.0,1540.5 C200.3,1542.1 226.3,1542.9 254.0,1544.5 C281.7,1546.1 316.1,1548.8 343.0,1550.0 C369.9,1551.2 389.2,1550.5 415.5,1551.5 C441.8,1552.5 473.6,1554.2 501.0,1555.7 C528.4,1557.2 553.0,1558.5 580.0,1560.3 C607.0,1562.1 648.9,1565.7 662.7,1566.8 C672.7,1565.6 701.8,1561.8 722.5,1559.7 C743.2,1557.6 776.0,1555.0 786.7,1554.0" fill="none" stroke="#808080" stroke-width="5.8" stroke-linejoin="round" stroke-linecap="round"/>
<path d="M114.4,1345.5 C137.7,1347.5 215.9,1354.1 254.0,1357.3 C292.1,1360.5 316.1,1362.5 343.0,1364.9 C369.9,1367.3 389.2,1368.8 415.5,1371.6 C441.8,1374.4 473.6,1378.5 501.0,1381.6 C528.4,1384.7 553.0,1386.9 580.0,1390.1 C607.0,1393.3 648.9,1399.2 662.7,1401.0 L786.7,1407.8" fill="none" stroke="#333333" stroke-width="5.8" stroke-linejoin="round" stroke-linecap="round"/>
<path d="M114.4,1151.5 C123.4,1154.0 145.2,1163.1 168.5,1166.5 C191.8,1169.9 224.9,1170.1 254.0,1172.0 C283.1,1173.9 316.1,1175.8 343.0,1177.7 C369.9,1179.6 389.2,1181.0 415.5,1183.4 C441.8,1185.8 473.6,1188.9 501.0,1192.0 C528.4,1195.1 553.0,1198.0 580.0,1202.0 C607.0,1206.0 648.9,1213.8 662.7,1216.2 C663.7,1215.5 658.4,1213.4 668.4,1212.0 C678.4,1210.6 702.8,1208.9 722.5,1207.7 C742.2,1206.5 776.0,1205.3 786.7,1204.8" fill="none" stroke="#000000" stroke-width="5.8" stroke-linejoin="round" stroke-linecap="round"/>
<path d="M114.4,1395.8 C118.7,1394.6 126.2,1390.4 140.0,1388.7 C153.8,1387.0 178.0,1386.5 197.0,1385.8 C216.0,1385.1 235.0,1384.9 254.0,1384.4 C273.0,1383.9 296.2,1383.5 311.0,1383.0 C325.8,1382.5 325.6,1382.3 343.0,1381.6 C360.4,1380.9 389.2,1380.1 415.5,1378.7 C441.8,1377.3 473.6,1374.9 501.0,1373.0 C528.4,1371.1 553.0,1369.2 580.0,1367.3 C607.0,1365.4 648.9,1362.5 662.7,1361.6 C665.6,1362.1 669.8,1363.7 679.8,1364.5 C689.8,1365.3 704.7,1366.0 722.5,1366.7 C740.3,1367.4 776.0,1368.4 786.7,1368.7" fill="none" stroke="#82c6f8" stroke-width="5.8" stroke-linejoin="round" stroke-linecap="round"/>
<path d="M114.4,1150.7 C123.4,1152.8 145.2,1160.9 168.5,1163.5 C191.8,1166.1 224.9,1165.3 254.0,1166.3 C283.1,1167.2 316.1,1168.0 343.0,1169.2 C369.9,1170.4 389.2,1171.6 415.5,1173.5 C441.8,1175.4 473.6,1178.0 501.0,1180.6 C528.4,1183.2 553.0,1186.0 580.0,1189.1 C607.0,1192.2 648.9,1197.4 662.7,1199.1 C670.3,1197.4 693.6,1191.7 708.3,1189.1 C723.0,1186.5 737.9,1185.4 751.0,1183.4 C764.1,1181.4 780.8,1178.2 786.7,1177.2" fill="none" stroke="#8aec8a" stroke-width="5.8" stroke-linejoin="round" stroke-linecap="round"/>
<path d="M114.4,1153.5 C122.0,1155.9 136.7,1163.8 160.0,1167.8 C183.3,1171.8 223.5,1174.4 254.0,1177.7 C284.5,1181.0 316.1,1184.9 343.0,1187.7 C369.9,1190.5 389.2,1191.2 415.5,1194.8 C441.8,1198.4 473.6,1204.6 501.0,1209.1 C528.4,1213.6 553.0,1216.7 580.0,1221.9 C607.0,1227.1 648.9,1237.4 662.7,1240.5 C663.7,1239.5 658.4,1236.6 668.4,1234.7 C678.4,1232.8 706.4,1231.6 722.5,1229.0 C738.6,1226.4 754.6,1222.4 765.3,1219.1 C776.0,1215.8 783.1,1210.8 786.7,1209.1" fill="none" stroke="#2a8750" stroke-width="5.8" stroke-linejoin="round" stroke-linecap="round"/>
<path d="M114.4,1345.5 C128.2,1346.3 158.9,1348.7 197.0,1350.5 C235.1,1352.3 306.6,1354.6 343.0,1356.5 C379.4,1358.4 389.2,1360.3 415.5,1362.0 C441.8,1363.7 473.6,1364.9 501.0,1366.5 C528.4,1368.1 553.0,1369.9 580.0,1371.5 C607.0,1373.1 648.9,1375.2 662.7,1376.0 C663.7,1374.3 665.5,1368.9 668.4,1366.0 C671.2,1363.1 670.8,1361.0 679.8,1358.8 C688.8,1356.6 710.6,1354.7 722.5,1353.0 C734.4,1351.3 740.5,1349.8 751.0,1348.8 C761.5,1347.8 779.5,1347.5 785.2,1347.3" fill="none" stroke="#f2a05a" stroke-width="5.8" stroke-linejoin="round" stroke-linecap="butt" stroke-dasharray="19.5 6.7"/>
<path d="M114.4,1345.5 C128.2,1348.5 173.7,1358.6 197.0,1363.5 C220.3,1368.4 229.7,1370.7 254.0,1375.0 C278.3,1379.3 316.1,1385.0 343.0,1389.3 C369.9,1393.6 389.2,1396.4 415.5,1400.7 C441.8,1405.0 473.6,1410.9 501.0,1414.9 C528.4,1418.9 553.2,1420.9 580.0,1424.9 C606.8,1428.9 647.9,1436.7 661.5,1439.0 C662.0,1435.0 663.4,1420.2 664.5,1415.0 C665.6,1409.8 665.9,1411.7 668.4,1408.0 C670.9,1404.3 675.5,1398.8 679.8,1393.0 C684.1,1387.2 688.3,1379.7 694.0,1373.0 C699.7,1366.3 706.9,1359.2 714.0,1353.0 C721.1,1346.8 729.7,1340.3 736.8,1336.0 C743.9,1331.7 748.9,1329.8 756.7,1327.4 C764.5,1325.0 779.3,1322.7 783.8,1321.7" fill="none" stroke="#d0621a" stroke-width="5.8" stroke-linejoin="round" stroke-linecap="butt" stroke-dasharray="19.5 6.7"/>
<path d="M114.4,1344.5 C128.2,1345.2 158.9,1347.1 197.0,1348.8 C235.1,1350.5 306.6,1352.6 343.0,1354.5 C379.4,1356.4 389.2,1358.5 415.5,1360.2 C441.8,1361.9 473.6,1362.9 501.0,1364.5 C528.4,1366.1 553.0,1367.9 580.0,1369.6 C607.0,1371.2 648.9,1373.6 662.7,1374.4 C663.7,1372.8 663.2,1368.1 668.4,1364.5 C673.6,1360.9 685.0,1356.3 694.0,1353.0 C703.0,1349.7 713.0,1346.9 722.5,1344.5 C732.0,1342.1 740.3,1340.5 751.0,1338.8 C761.7,1337.1 780.8,1335.2 786.7,1334.5" fill="none" stroke="#f2a05a" stroke-width="5.8" stroke-linejoin="round" stroke-linecap="round"/>
<path d="M114.4,1344.5 C128.2,1347.3 173.7,1356.8 197.0,1361.6 C220.3,1366.3 229.7,1368.7 254.0,1373.0 C278.3,1377.3 316.1,1383.0 343.0,1387.3 C369.9,1391.6 389.2,1394.4 415.5,1398.7 C441.8,1403.0 473.6,1408.9 501.0,1412.9 C528.4,1416.9 553.3,1418.9 580.0,1422.9 C606.7,1426.9 647.7,1434.7 661.2,1437.1 L664.1,1410.1 C665.3,1408.2 666.2,1404.4 671.2,1398.7 C676.2,1393.0 685.5,1382.6 694.0,1375.9 C702.5,1369.2 713.0,1362.8 722.5,1358.8 C732.0,1354.8 740.3,1353.8 751.0,1351.6 C761.7,1349.4 780.8,1346.9 786.7,1345.9" fill="none" stroke="#d0621a" stroke-width="5.8" stroke-linejoin="round" stroke-linecap="round"/>
<path d="M114.4,1534.1 C124.8,1535.0 153.7,1538.1 177.0,1539.8 C200.3,1541.5 226.3,1542.3 254.0,1544.0 C281.7,1545.7 316.1,1548.5 343.0,1549.7 C369.9,1550.9 389.2,1550.2 415.5,1551.2 C441.8,1552.2 473.6,1554.0 501.0,1555.4 C528.4,1556.8 553.0,1558.0 580.0,1559.7 C607.0,1561.4 648.9,1564.5 662.7,1565.4 C663.2,1560.9 662.6,1546.1 665.5,1538.3 C668.4,1530.5 672.7,1526.5 679.8,1518.4 C686.9,1510.3 698.8,1497.7 708.3,1489.9 C717.8,1482.1 727.3,1476.4 736.8,1471.4 C746.3,1466.4 757.2,1462.6 765.3,1460.0 C773.4,1457.4 781.9,1456.4 785.2,1455.7" fill="none" stroke="#ac1a1c" stroke-width="5.8" stroke-linejoin="round" stroke-linecap="butt" stroke-dasharray="19.5 6.7"/>
<path d="M114.4,1534.1 C124.8,1535.0 153.7,1538.1 177.0,1539.8 C200.3,1541.5 226.3,1542.3 254.0,1544.0 C281.7,1545.7 316.1,1548.5 343.0,1549.7 C369.9,1550.9 389.2,1550.2 415.5,1551.2 C441.8,1552.2 473.6,1553.9 501.0,1555.4 C528.4,1557.0 553.0,1558.7 580.0,1560.5 C607.0,1562.3 648.9,1565.3 662.7,1566.3 C663.2,1564.0 662.6,1556.8 665.5,1552.6 C668.4,1548.4 672.7,1545.5 679.8,1541.2 C686.9,1536.9 698.8,1530.6 708.3,1527.0 C717.8,1523.4 723.7,1522.1 736.8,1519.8 C749.9,1517.5 778.4,1514.4 786.7,1513.3" fill="none" stroke="#ac1a1c" stroke-width="5.8" stroke-linejoin="round" stroke-linecap="round"/></g>
<g clip-path="url(#clipf)"><path d="M938.5,1544.5 C954.3,1544.6 1004.9,1544.0 1033.4,1545.0 C1061.9,1546.0 1084.7,1548.8 1109.5,1550.5 C1134.3,1552.2 1161.2,1553.5 1182.5,1555.0 C1203.8,1556.5 1222.9,1557.5 1237.2,1559.5 C1251.5,1561.5 1263.0,1565.6 1268.2,1566.8 C1273.5,1566.8 1283.4,1566.8 1300.0,1566.8 C1316.6,1566.8 1356.4,1566.6 1367.7,1566.6 C1384.6,1564.6 1428.9,1558.6 1469.3,1554.7 C1509.7,1550.8 1586.5,1545.3 1609.9,1543.4" fill="none" stroke="#808080" stroke-width="5.8" stroke-linejoin="round" stroke-linecap="round"/>
<path d="M938.5,1486.1 C939.7,1486.2 943.6,1486.3 945.8,1486.7 C948.0,1487.1 949.9,1488.7 951.9,1488.5 C953.9,1488.3 956.0,1485.6 958.0,1485.5 C960.0,1485.4 962.3,1486.4 964.1,1487.9 C965.9,1489.4 966.9,1492.9 968.9,1494.5 C970.9,1496.1 973.4,1496.8 976.0,1497.5 C978.6,1498.2 980.2,1498.5 984.7,1498.4 C989.2,1498.3 994.4,1497.7 1003.0,1497.0 C1011.6,1496.3 1024.8,1494.8 1036.5,1494.5 C1048.2,1494.2 1062.4,1494.8 1073.0,1495.5 C1083.6,1496.2 1090.9,1497.4 1100.0,1498.5 C1109.1,1499.6 1118.5,1500.8 1127.7,1502.2 C1136.9,1503.6 1145.9,1505.3 1155.0,1507.0 C1164.1,1508.7 1175.0,1510.7 1182.5,1512.2 C1190.0,1513.7 1193.9,1514.5 1200.0,1516.0 C1206.1,1517.5 1213.2,1519.4 1219.0,1521.3 C1224.8,1523.2 1230.4,1525.1 1235.0,1527.3 C1239.6,1529.5 1243.1,1531.7 1246.4,1534.4 C1249.7,1537.1 1252.6,1540.6 1255.0,1543.5 C1257.4,1546.4 1259.2,1549.1 1261.0,1551.7 C1262.8,1554.2 1264.3,1556.7 1265.5,1558.7 C1266.7,1560.8 1267.8,1563.1 1268.2,1564.0 C1268.3,1564.5 1256.7,1566.3 1269.0,1566.8 C1281.3,1567.3 1330.1,1566.8 1342.3,1566.8 C1349.4,1562.7 1368.2,1548.5 1384.7,1542.0 C1401.2,1535.5 1417.6,1531.7 1441.1,1527.9 C1464.6,1524.1 1497.7,1522.5 1525.8,1519.4 C1553.9,1516.4 1595.9,1511.2 1609.9,1509.6" fill="none" stroke="#333333" stroke-width="5.8" stroke-linejoin="round" stroke-linecap="round"/>
<path d="M938.5,1485.1 C939.7,1485.2 943.6,1485.3 945.8,1485.7 C948.0,1486.1 949.9,1487.7 951.9,1487.5 C953.9,1487.3 956.0,1484.6 958.0,1484.5 C960.0,1484.4 962.3,1485.4 964.1,1486.9 C965.9,1488.4 966.9,1491.9 968.9,1493.5 C970.9,1495.1 973.4,1495.8 976.0,1496.5 C978.6,1497.2 980.2,1497.5 984.7,1497.4 C989.2,1497.3 994.4,1496.7 1003.0,1496.0 C1011.6,1495.3 1024.8,1493.8 1036.5,1493.5 C1048.2,1493.2 1062.4,1493.8 1073.0,1494.5 C1083.6,1495.2 1090.9,1496.4 1100.0,1497.5 C1109.1,1498.6 1118.5,1499.8 1127.7,1501.2 C1136.9,1502.6 1145.9,1504.3 1155.0,1506.0 C1164.1,1507.7 1175.0,1509.7 1182.5,1511.2 C1190.0,1512.7 1193.9,1513.5 1200.0,1515.0 C1206.1,1516.5 1213.2,1518.4 1219.0,1520.3 C1224.8,1522.2 1230.4,1524.2 1235.0,1526.4 C1239.6,1528.7 1243.1,1530.9 1246.4,1533.7 C1249.7,1536.4 1252.6,1540.0 1255.0,1542.9 C1257.4,1545.9 1259.2,1548.6 1261.0,1551.2 C1262.8,1553.8 1264.3,1556.3 1265.5,1558.4 C1266.7,1560.6 1267.8,1563.1 1268.2,1564.0 C1268.2,1563.6 1260.8,1566.2 1268.5,1566.8 C1276.2,1567.4 1307.0,1566.8 1314.7,1566.8 C1321.7,1565.0 1344.7,1560.7 1356.4,1556.1 C1368.1,1551.5 1372.9,1544.8 1384.7,1539.2 C1396.5,1533.6 1408.2,1527.0 1427.0,1522.3 C1445.8,1517.6 1467.0,1515.5 1497.5,1511.0 C1528.0,1506.5 1591.2,1498.0 1609.9,1495.4" fill="none" stroke="#000000" stroke-width="5.8" stroke-linejoin="round" stroke-linecap="round"/>
<path d="M938.5,1168.0 C938.9,1166.8 939.6,1162.9 941.0,1161.0 C942.4,1159.1 944.7,1157.6 947.0,1156.5 C949.3,1155.4 952.2,1155.0 955.0,1154.5 C957.8,1154.0 961.4,1153.2 963.5,1153.6 C965.6,1154.0 966.3,1155.3 967.5,1157.0 C968.7,1158.7 969.6,1161.3 970.5,1164.0 C971.4,1166.7 972.2,1169.8 973.0,1173.0 C973.8,1176.2 974.3,1179.8 975.0,1183.0 C975.7,1186.2 976.7,1190.5 977.0,1192.0 C977.3,1193.8 978.2,1202.7 979.0,1203.0 C979.8,1203.3 981.1,1193.5 982.0,1194.0 C982.9,1194.5 983.5,1204.2 984.5,1206.0 C985.5,1207.8 987.0,1203.5 987.7,1205.0 C988.4,1206.5 988.0,1214.2 988.5,1215.0 C989.0,1215.8 989.9,1208.2 990.5,1210.0 C991.1,1211.8 991.4,1224.0 992.0,1226.0 C992.6,1228.0 993.3,1219.7 994.0,1222.0 C994.7,1224.3 995.6,1237.7 996.2,1240.0 C996.8,1242.3 997.0,1232.4 997.5,1236.0 C998.0,1239.6 998.8,1257.5 999.1,1261.8 C1000.0,1260.4 1002.4,1252.8 1004.8,1253.3 C1007.2,1253.8 1010.9,1260.4 1013.3,1264.7 C1015.7,1269.0 1016.6,1271.8 1019.0,1278.9 C1021.4,1286.0 1025.3,1295.4 1027.6,1307.4 C1029.9,1319.4 1031.9,1343.8 1032.8,1351.1 C1036.5,1354.8 1045.0,1363.3 1054.7,1373.0 C1064.4,1382.7 1079.0,1398.5 1091.2,1409.5 C1103.4,1420.5 1115.5,1429.6 1127.7,1438.7 C1139.9,1447.8 1152.0,1455.7 1164.2,1464.2 C1176.4,1472.7 1190.1,1482.2 1200.7,1489.8 C1211.3,1497.4 1220.7,1504.5 1228.1,1509.9 C1235.5,1515.4 1240.4,1518.7 1245.0,1522.5 C1249.6,1526.3 1252.7,1529.2 1255.5,1532.5 C1258.3,1535.8 1260.2,1538.9 1262.0,1542.0 C1263.8,1545.1 1264.9,1547.7 1266.0,1551.0 C1267.1,1554.3 1268.0,1560.2 1268.4,1562.0 C1268.3,1562.8 1261.2,1566.0 1269.0,1566.8 C1276.8,1567.6 1307.1,1566.8 1314.7,1566.8 C1321.7,1565.5 1346.2,1563.1 1356.4,1559.0 C1366.7,1554.9 1366.8,1551.4 1376.2,1542.0 C1385.6,1532.6 1399.7,1516.1 1412.9,1502.5 C1426.1,1488.9 1443.5,1474.3 1455.2,1460.2 C1467.0,1446.1 1474.0,1434.3 1483.4,1417.8 C1492.8,1401.3 1502.3,1380.2 1511.7,1361.4 C1521.1,1342.6 1530.5,1323.3 1539.9,1305.0 C1549.3,1286.7 1558.7,1268.7 1568.1,1251.3 C1577.5,1233.9 1589.3,1212.2 1596.3,1200.5 C1603.3,1188.8 1607.6,1184.1 1609.9,1180.8" fill="none" stroke="#82c6f8" stroke-width="5.8" stroke-linejoin="round" stroke-linecap="round"/>
<path d="M938.5,1480.1 C939.7,1480.2 943.6,1480.3 945.8,1480.7 C948.0,1481.1 949.9,1482.7 951.9,1482.5 C953.9,1482.3 956.0,1479.6 958.0,1479.5 C960.0,1479.4 962.3,1480.4 964.1,1481.9 C965.9,1483.4 966.9,1486.9 968.9,1488.5 C970.9,1490.1 973.4,1490.8 976.0,1491.5 C978.6,1492.2 980.2,1492.5 984.7,1492.4 C989.2,1492.3 994.4,1491.7 1003.0,1491.0 C1011.6,1490.3 1024.8,1488.8 1036.5,1488.5 C1048.2,1488.2 1062.4,1488.8 1073.0,1489.5 C1083.6,1490.2 1090.9,1491.4 1100.0,1492.5 C1109.1,1493.6 1118.5,1494.8 1127.7,1496.2 C1136.9,1497.6 1145.9,1499.3 1155.0,1501.0 C1164.1,1502.7 1175.0,1504.7 1182.5,1506.2 C1190.0,1507.7 1193.9,1508.5 1200.0,1510.0 C1206.1,1511.5 1213.2,1513.3 1219.0,1515.3 C1224.8,1517.3 1230.4,1519.5 1235.0,1522.0 C1239.6,1524.5 1243.1,1527.0 1246.4,1530.0 C1249.7,1533.0 1252.6,1536.8 1255.0,1540.0 C1257.4,1543.2 1259.2,1546.2 1261.0,1549.0 C1262.8,1551.8 1264.3,1554.5 1265.5,1557.0 C1266.7,1559.5 1267.8,1562.8 1268.2,1564.0 C1268.2,1563.6 1260.8,1566.2 1268.5,1566.8 C1276.2,1567.4 1307.0,1566.8 1314.7,1566.8 C1315.7,1563.3 1316.6,1553.1 1320.8,1545.6 C1325.0,1538.1 1332.7,1529.0 1339.8,1521.9 C1346.9,1514.8 1355.6,1508.2 1363.5,1502.9 C1371.4,1497.6 1379.5,1494.7 1387.2,1490.2 C1395.0,1485.7 1403.4,1479.5 1410.0,1476.0 C1416.6,1472.5 1417.1,1471.1 1427.0,1469.0 C1436.9,1466.9 1452.8,1464.5 1469.3,1463.5 C1485.8,1462.5 1502.4,1463.8 1525.8,1463.0 C1549.2,1462.2 1595.9,1459.5 1609.9,1458.8" fill="none" stroke="#6cbd6a" stroke-width="5.8" stroke-linejoin="round" stroke-linecap="round"/>
<path d="M938.5,1493.1 C939.7,1493.2 943.6,1493.3 945.8,1493.7 C948.0,1494.1 949.9,1495.7 951.9,1495.5 C953.9,1495.3 956.0,1492.6 958.0,1492.5 C960.0,1492.4 962.3,1493.4 964.1,1494.9 C965.9,1496.4 966.9,1499.9 968.9,1501.5 C970.9,1503.1 973.4,1503.8 976.0,1504.5 C978.6,1505.2 980.2,1505.5 984.7,1505.4 C989.2,1505.3 994.4,1504.7 1003.0,1504.0 C1011.6,1503.3 1024.8,1501.8 1036.5,1501.5 C1048.2,1501.2 1062.4,1501.8 1073.0,1502.5 C1083.6,1503.2 1090.9,1504.4 1100.0,1505.5 C1109.1,1506.6 1118.5,1507.8 1127.7,1509.2 C1136.9,1510.6 1145.9,1512.3 1155.0,1514.0 C1164.1,1515.7 1175.0,1517.7 1182.5,1519.2 C1190.0,1520.7 1193.9,1521.5 1200.0,1523.0 C1206.1,1524.5 1213.2,1526.5 1219.0,1528.3 C1224.8,1530.1 1230.4,1531.7 1235.0,1533.5 C1239.6,1535.4 1243.1,1537.2 1246.4,1539.6 C1249.7,1541.9 1252.6,1545.1 1255.0,1547.6 C1257.4,1550.2 1259.2,1552.6 1261.0,1554.8 C1262.8,1557.0 1264.3,1559.2 1265.5,1560.7 C1266.7,1562.3 1267.8,1563.5 1268.2,1564.0 C1268.2,1564.5 1260.8,1566.3 1268.5,1566.8 C1276.2,1567.3 1307.0,1566.8 1314.7,1566.8 C1315.5,1562.2 1316.1,1548.0 1319.8,1539.2 C1323.5,1530.4 1330.6,1521.8 1336.7,1513.8 C1342.8,1505.8 1351.5,1493.8 1356.4,1491.2 C1361.3,1488.6 1364.4,1496.9 1366.0,1498.0 C1367.2,1498.4 1367.9,1506.8 1373.4,1500.5 C1378.9,1494.2 1389.9,1472.1 1398.8,1460.2 C1407.7,1448.3 1417.6,1439.0 1427.0,1429.1 C1436.4,1419.2 1443.5,1409.8 1455.2,1400.9 C1467.0,1392.0 1481.0,1382.5 1497.5,1375.5 C1514.0,1368.5 1535.3,1363.3 1554.0,1358.6 C1572.7,1353.9 1600.6,1349.2 1609.9,1347.3" fill="none" stroke="#17542e" stroke-width="5.8" stroke-linejoin="round" stroke-linecap="round"/>
<path d="M938.5,1486.6 C939.7,1486.7 943.6,1486.8 945.8,1487.2 C948.0,1487.6 949.9,1489.2 951.9,1489.0 C953.9,1488.8 956.0,1486.1 958.0,1486.0 C960.0,1485.9 962.3,1486.9 964.1,1488.4 C965.9,1489.9 966.9,1493.4 968.9,1495.0 C970.9,1496.6 973.4,1497.3 976.0,1498.0 C978.6,1498.7 980.2,1499.0 984.7,1498.9 C989.2,1498.8 994.4,1498.2 1003.0,1497.5 C1011.6,1496.8 1024.8,1495.2 1036.5,1495.0 C1048.2,1494.8 1062.4,1495.3 1073.0,1496.0 C1083.6,1496.7 1090.9,1497.9 1100.0,1499.0 C1109.1,1500.1 1118.5,1501.3 1127.7,1502.7 C1136.9,1504.1 1145.9,1505.8 1155.0,1507.5 C1164.1,1509.2 1175.0,1511.2 1182.5,1512.7 C1190.0,1514.2 1193.9,1515.0 1200.0,1516.5 C1206.1,1518.0 1213.2,1519.9 1219.0,1521.8 C1224.8,1523.7 1230.4,1525.6 1235.0,1527.8 C1239.6,1529.9 1243.1,1532.1 1246.4,1534.8 C1249.7,1537.5 1252.6,1541.0 1255.0,1543.8 C1257.4,1546.7 1259.2,1549.4 1261.0,1551.9 C1262.8,1554.4 1264.3,1556.9 1265.5,1558.9 C1266.7,1560.9 1267.8,1563.1 1268.2,1564.0 C1268.2,1562.0 1260.8,1565.8 1268.5,1566.8 C1276.2,1567.8 1307.0,1566.8 1314.7,1566.8 C1314.7,1564.5 1311.5,1562.1 1314.7,1553.3 C1317.9,1544.5 1327.0,1525.5 1333.9,1513.8 C1340.9,1502.0 1347.9,1492.7 1356.4,1482.8 C1364.9,1472.9 1375.3,1462.3 1384.7,1454.5 C1394.1,1446.7 1403.5,1440.9 1412.9,1436.2 C1422.3,1431.5 1427.0,1429.1 1441.1,1426.3 C1455.2,1423.5 1478.7,1421.2 1497.5,1419.3 C1516.3,1417.4 1535.3,1416.9 1554.0,1415.0 C1572.7,1413.1 1600.6,1409.2 1609.9,1408.0" fill="none" stroke="#f2a05a" stroke-width="5.8" stroke-linejoin="round" stroke-linecap="butt" stroke-dasharray="19.5 6.7"/>
<path d="M938.5,1496.6 C939.7,1496.7 943.7,1496.1 945.8,1497.2 C947.9,1498.3 950.3,1502.7 951.3,1503.0 C952.3,1503.3 950.8,1500.2 951.9,1499.0 C953.0,1497.8 956.0,1496.1 958.0,1496.0 C960.0,1495.9 962.3,1496.9 964.1,1498.4 C965.9,1499.9 966.9,1503.4 968.9,1505.0 C970.9,1506.6 973.4,1507.3 976.0,1508.0 C978.6,1508.7 980.2,1509.0 984.7,1508.9 C989.2,1508.8 994.4,1508.1 1003.0,1507.6 C1011.6,1507.1 1024.8,1506.0 1036.5,1506.1 C1048.2,1506.2 1062.4,1507.3 1073.0,1508.2 C1083.6,1509.2 1090.9,1510.7 1100.0,1512.1 C1109.1,1513.5 1118.5,1515.1 1127.7,1516.6 C1136.9,1518.2 1145.9,1519.8 1155.0,1521.5 C1164.1,1523.2 1175.0,1525.2 1182.5,1526.7 C1190.0,1528.2 1193.9,1529.0 1200.0,1530.5 C1206.1,1532.0 1213.2,1534.2 1219.0,1535.8 C1224.8,1537.4 1230.4,1538.7 1235.0,1540.2 C1239.6,1541.8 1243.1,1543.1 1246.4,1545.1 C1249.7,1547.0 1252.6,1549.8 1255.0,1552.0 C1257.4,1554.2 1259.2,1556.3 1261.0,1558.2 C1262.8,1560.0 1264.3,1561.9 1265.5,1562.9 C1266.7,1563.9 1267.8,1563.8 1268.2,1564.0 C1268.2,1563.6 1260.8,1566.2 1268.5,1566.8 C1276.2,1567.4 1307.0,1566.8 1314.7,1566.8 C1314.7,1566.0 1312.5,1567.8 1314.7,1561.8 C1317.0,1555.8 1322.7,1539.2 1328.2,1530.7 C1333.8,1522.2 1342.8,1516.6 1348.0,1511.0 C1353.2,1505.4 1355.1,1507.2 1359.3,1496.9 C1363.5,1486.6 1369.2,1460.2 1373.4,1448.9 C1377.6,1437.6 1381.0,1433.3 1384.7,1429.1 C1388.5,1424.9 1392.2,1424.0 1395.9,1423.5 C1399.7,1423.0 1402.5,1424.4 1407.2,1426.3 C1411.9,1428.2 1418.6,1433.1 1424.2,1434.8 C1429.8,1436.5 1431.2,1436.9 1441.1,1436.2 C1451.0,1435.5 1469.3,1433.1 1483.4,1430.5 C1497.5,1427.9 1511.7,1425.2 1525.8,1420.7 C1539.9,1416.2 1554.1,1409.4 1568.1,1403.7 C1582.1,1398.0 1602.9,1389.6 1609.9,1386.8" fill="none" stroke="#d0621a" stroke-width="5.8" stroke-linejoin="round" stroke-linecap="butt" stroke-dasharray="19.5 6.7"/>
<path d="M938.5,1490.6 C939.7,1490.7 943.6,1490.8 945.8,1491.2 C948.0,1491.6 949.9,1493.2 951.9,1493.0 C953.9,1492.8 956.0,1490.1 958.0,1490.0 C960.0,1489.9 962.3,1490.9 964.1,1492.4 C965.9,1493.9 966.9,1497.4 968.9,1499.0 C970.9,1500.6 973.4,1501.3 976.0,1502.0 C978.6,1502.7 980.2,1503.0 984.7,1502.9 C989.2,1502.8 994.4,1502.1 1003.0,1501.5 C1011.6,1501.0 1024.8,1499.5 1036.5,1499.4 C1048.2,1499.3 1062.4,1500.1 1073.0,1500.8 C1083.6,1501.6 1090.9,1502.9 1100.0,1504.2 C1109.1,1505.4 1118.5,1506.7 1127.7,1508.2 C1136.9,1509.6 1145.9,1511.3 1155.0,1513.0 C1164.1,1514.7 1175.0,1516.7 1182.5,1518.2 C1190.0,1519.7 1193.9,1520.5 1200.0,1522.0 C1206.1,1523.5 1213.2,1525.5 1219.0,1527.3 C1224.8,1529.1 1230.4,1530.7 1235.0,1532.7 C1239.6,1534.6 1243.1,1536.4 1246.4,1538.8 C1249.7,1541.2 1252.6,1544.4 1255.0,1547.0 C1257.4,1549.6 1259.2,1552.1 1261.0,1554.4 C1262.8,1556.6 1264.3,1558.8 1265.5,1560.4 C1266.7,1562.1 1267.8,1563.4 1268.2,1564.0 C1268.2,1561.1 1260.8,1565.7 1268.5,1566.8 C1276.2,1567.9 1307.0,1566.8 1314.7,1566.8 C1321.7,1562.7 1347.9,1547.8 1356.4,1542.0 C1365.0,1536.2 1364.4,1533.7 1366.0,1532.0 C1367.2,1527.5 1367.9,1512.6 1373.4,1505.3 C1378.9,1498.0 1387.5,1493.6 1398.8,1488.4 C1410.1,1483.2 1424.6,1479.5 1441.1,1474.3 C1457.5,1469.1 1478.7,1462.6 1497.5,1457.4 C1516.3,1452.2 1535.3,1447.2 1554.0,1443.2 C1572.7,1439.2 1600.6,1435.0 1609.9,1433.4" fill="none" stroke="#f2a05a" stroke-width="5.8" stroke-linejoin="round" stroke-linecap="round"/>
<path d="M938.5,1501.1 C939.7,1501.2 943.7,1500.7 945.8,1501.7 C947.9,1502.8 950.3,1507.1 951.3,1507.4 C952.3,1507.7 950.8,1504.7 951.9,1503.5 C953.0,1502.3 956.0,1500.6 958.0,1500.5 C960.0,1500.4 962.3,1501.4 964.1,1502.9 C965.9,1504.4 966.9,1507.9 968.9,1509.5 C970.9,1511.1 973.4,1511.8 976.0,1512.5 C978.6,1513.2 980.2,1513.5 984.7,1513.4 C989.2,1513.3 994.4,1512.6 1003.0,1512.1 C1011.6,1511.6 1024.8,1510.5 1036.5,1510.6 C1048.2,1510.7 1062.4,1511.8 1073.0,1512.7 C1083.6,1513.7 1090.9,1515.2 1100.0,1516.6 C1109.1,1518.0 1118.5,1519.6 1127.7,1521.1 C1136.9,1522.7 1145.9,1524.3 1155.0,1526.0 C1164.1,1527.7 1175.0,1529.7 1182.5,1531.2 C1190.0,1532.7 1193.9,1533.5 1200.0,1535.0 C1206.1,1536.5 1213.2,1538.8 1219.0,1540.3 C1224.8,1541.8 1230.4,1542.9 1235.0,1544.2 C1239.6,1545.6 1243.1,1546.6 1246.4,1548.4 C1249.7,1550.1 1252.6,1552.7 1255.0,1554.7 C1257.4,1556.6 1259.2,1558.6 1261.0,1560.2 C1262.8,1561.7 1264.3,1563.5 1265.5,1564.2 C1266.7,1564.8 1267.8,1564.0 1268.2,1564.0 C1268.2,1562.8 1260.8,1566.0 1268.5,1566.8 C1276.2,1567.6 1307.0,1566.8 1314.7,1566.8 C1321.7,1563.1 1348.0,1549.4 1356.4,1544.8 C1364.8,1540.2 1363.5,1540.1 1364.9,1539.2 L1370.5,1468.6 C1372.9,1463.9 1377.6,1449.8 1384.7,1440.4 C1391.8,1431.0 1403.5,1419.7 1412.9,1412.2 C1422.3,1404.7 1431.7,1400.0 1441.1,1395.3 C1450.5,1390.6 1457.5,1388.2 1469.3,1384.0 C1481.1,1379.8 1497.6,1373.9 1511.7,1369.9 C1525.8,1365.9 1537.6,1362.6 1554.0,1360.0 C1570.4,1357.4 1600.6,1355.2 1609.9,1354.3" fill="none" stroke="#d0621a" stroke-width="5.8" stroke-linejoin="round" stroke-linecap="round"/>
<path d="M938.5,1543.9 C940.5,1544.5 947.5,1547.8 950.7,1547.6 C954.0,1547.4 955.4,1543.1 958.0,1542.7 C960.6,1542.3 953.9,1544.9 966.5,1545.2 C979.1,1545.5 1009.6,1543.8 1033.4,1544.6 C1057.2,1545.4 1084.7,1548.3 1109.5,1550.0 C1134.3,1551.7 1161.2,1553.1 1182.5,1554.6 C1203.8,1556.1 1223.5,1557.4 1237.2,1559.1 C1250.9,1560.8 1260.0,1563.7 1264.6,1564.6 C1265.2,1565.0 1252.4,1566.9 1268.2,1566.8 C1284.0,1566.7 1344.1,1564.5 1359.3,1564.0 C1360.7,1559.4 1365.3,1546.2 1367.7,1536.4 C1370.1,1526.6 1372.5,1510.5 1373.4,1505.3 C1377.6,1502.5 1387.5,1493.1 1398.8,1488.4 C1410.1,1483.7 1424.6,1480.4 1441.1,1477.1 C1457.5,1473.8 1478.7,1471.2 1497.5,1468.6 C1516.3,1466.0 1535.3,1464.4 1554.0,1461.6 C1572.7,1458.8 1600.6,1453.3 1609.9,1451.7" fill="none" stroke="#ac1a1c" stroke-width="5.8" stroke-linejoin="round" stroke-linecap="butt" stroke-dasharray="19.5 6.7"/>
<path d="M938.5,1543.9 C940.5,1544.5 947.5,1547.8 950.7,1547.6 C954.0,1547.4 955.4,1543.1 958.0,1542.7 C960.6,1542.3 953.9,1544.9 966.5,1545.2 C979.1,1545.5 1009.6,1543.8 1033.4,1544.6 C1057.2,1545.4 1084.7,1548.3 1109.5,1550.0 C1134.3,1551.7 1161.2,1553.1 1182.5,1554.6 C1203.8,1556.1 1223.5,1557.4 1237.2,1559.1 C1250.9,1560.8 1260.0,1563.7 1264.6,1564.6 C1265.2,1565.0 1259.9,1566.4 1268.2,1566.8 C1276.5,1567.2 1306.8,1566.8 1314.5,1566.8 C1321.5,1566.0 1347.5,1565.0 1356.4,1561.8 C1365.3,1558.6 1365.8,1550.0 1367.7,1547.7 C1370.5,1546.8 1377.2,1543.7 1384.7,1542.0 C1392.2,1540.3 1394.1,1540.1 1412.9,1537.8 C1431.7,1535.5 1464.7,1531.7 1497.5,1527.9 C1530.3,1524.1 1591.2,1517.3 1609.9,1515.2" fill="none" stroke="#ac1a1c" stroke-width="5.8" stroke-linejoin="round" stroke-linecap="round"/></g>
<rect x="104.4" y="4.3" width="716" height="426.9" fill="none" stroke="#000" stroke-width="1.3"/>
<line x1="136.1" y1="431.2" x2="136.1" y2="436.8" stroke="#000" stroke-width="1.3"/>
<text x="136.1" y="459.6" font-size="23.6" text-anchor="middle">0.0</text>
<line x1="267" y1="431.2" x2="267" y2="436.8" stroke="#000" stroke-width="1.3"/>
<text x="267" y="459.6" font-size="23.6" text-anchor="middle">0.2</text>
<line x1="397.9" y1="431.2" x2="397.9" y2="436.8" stroke="#000" stroke-width="1.3"/>
<text x="397.9" y="459.6" font-size="23.6" text-anchor="middle">0.4</text>
<line x1="528.8" y1="431.2" x2="528.8" y2="436.8" stroke="#000" stroke-width="1.3"/>
<text x="528.8" y="459.6" font-size="23.6" text-anchor="middle">0.6</text>
<line x1="659.7" y1="431.2" x2="659.7" y2="436.8" stroke="#000" stroke-width="1.3"/>
<text x="659.7" y="459.6" font-size="23.6" text-anchor="middle">0.8</text>
<line x1="790.6" y1="431.2" x2="790.6" y2="436.8" stroke="#000" stroke-width="1.3"/>
<text x="790.6" y="459.6" font-size="23.6" text-anchor="middle">1.0</text>
<line x1="101.2" y1="428.08" x2="104.4" y2="428.08" stroke="#000" stroke-width="1.0"/>
<line x1="101.2" y1="422.43" x2="104.4" y2="422.43" stroke="#000" stroke-width="1.0"/>
<line x1="101.2" y1="417.82" x2="104.4" y2="417.82" stroke="#000" stroke-width="1.0"/>
<line x1="101.2" y1="413.92" x2="104.4" y2="413.92" stroke="#000" stroke-width="1.0"/>
<line x1="101.2" y1="410.55" x2="104.4" y2="410.55" stroke="#000" stroke-width="1.0"/>
<line x1="101.2" y1="407.57" x2="104.4" y2="407.57" stroke="#000" stroke-width="1.0"/>
<line x1="98.8" y1="404.9" x2="104.4" y2="404.9" stroke="#000" stroke-width="1.3"/>
<text x="92.5" y="413.2" font-size="23.6" text-anchor="end">10<tspan font-size="16.99" dy="-8.9">−3</tspan></text>
<line x1="101.2" y1="387.37" x2="104.4" y2="387.37" stroke="#000" stroke-width="1.0"/>
<line x1="101.2" y1="377.11" x2="104.4" y2="377.11" stroke="#000" stroke-width="1.0"/>
<line x1="101.2" y1="369.83" x2="104.4" y2="369.83" stroke="#000" stroke-width="1.0"/>
<line x1="101.2" y1="364.18" x2="104.4" y2="364.18" stroke="#000" stroke-width="1.0"/>
<line x1="101.2" y1="359.57" x2="104.4" y2="359.57" stroke="#000" stroke-width="1.0"/>
<line x1="101.2" y1="355.67" x2="104.4" y2="355.67" stroke="#000" stroke-width="1.0"/>
<line x1="101.2" y1="352.3" x2="104.4" y2="352.3" stroke="#000" stroke-width="1.0"/>
<line x1="101.2" y1="349.32" x2="104.4" y2="349.32" stroke="#000" stroke-width="1.0"/>
<line x1="98.8" y1="346.65" x2="104.4" y2="346.65" stroke="#000" stroke-width="1.3"/>
<text x="92.5" y="354.95" font-size="23.6" text-anchor="end">10<tspan font-size="16.99" dy="-8.9">−2</tspan></text>
<line x1="101.2" y1="329.12" x2="104.4" y2="329.12" stroke="#000" stroke-width="1.0"/>
<line x1="101.2" y1="318.86" x2="104.4" y2="318.86" stroke="#000" stroke-width="1.0"/>
<line x1="101.2" y1="311.58" x2="104.4" y2="311.58" stroke="#000" stroke-width="1.0"/>
<line x1="101.2" y1="305.93" x2="104.4" y2="305.93" stroke="#000" stroke-width="1.0"/>
<line x1="101.2" y1="301.32" x2="104.4" y2="301.32" stroke="#000" stroke-width="1.0"/>
<line x1="101.2" y1="297.42" x2="104.4" y2="297.42" stroke="#000" stroke-width="1.0"/>
<line x1="101.2" y1="294.05" x2="104.4" y2="294.05" stroke="#000" stroke-width="1.0"/>
<line x1="101.2" y1="291.07" x2="104.4" y2="291.07" stroke="#000" stroke-width="1.0"/>
<line x1="98.8" y1="288.4" x2="104.4" y2="288.4" stroke="#000" stroke-width="1.3"/>
<text x="92.5" y="296.7" font-size="23.6" text-anchor="end">10<tspan font-size="16.99" dy="-8.9">−1</tspan></text>
<line x1="101.2" y1="270.87" x2="104.4" y2="270.87" stroke="#000" stroke-width="1.0"/>
<line x1="101.2" y1="260.61" x2="104.4" y2="260.61" stroke="#000" stroke-width="1.0"/>
<line x1="101.2" y1="253.33" x2="104.4" y2="253.33" stroke="#000" stroke-width="1.0"/>
<line x1="101.2" y1="247.68" x2="104.4" y2="247.68" stroke="#000" stroke-width="1.0"/>
<line x1="101.2" y1="243.07" x2="104.4" y2="243.07" stroke="#000" stroke-width="1.0"/>
<line x1="101.2" y1="239.17" x2="104.4" y2="239.17" stroke="#000" stroke-width="1.0"/>
<line x1="101.2" y1="235.8" x2="104.4" y2="235.8" stroke="#000" stroke-width="1.0"/>
<line x1="101.2" y1="232.82" x2="104.4" y2="232.82" stroke="#000" stroke-width="1.0"/>
<line x1="98.8" y1="230.15" x2="104.4" y2="230.15" stroke="#000" stroke-width="1.3"/>
<text x="92.5" y="238.45" font-size="23.6" text-anchor="end">10<tspan font-size="16.99" dy="-8.9">0</tspan></text>
<line x1="101.2" y1="212.62" x2="104.4" y2="212.62" stroke="#000" stroke-width="1.0"/>
<line x1="101.2" y1="202.36" x2="104.4" y2="202.36" stroke="#000" stroke-width="1.0"/>
<line x1="101.2" y1="195.08" x2="104.4" y2="195.08" stroke="#000" stroke-width="1.0"/>
<line x1="101.2" y1="189.43" x2="104.4" y2="189.43" stroke="#000" stroke-width="1.0"/>
<line x1="101.2" y1="184.82" x2="104.4" y2="184.82" stroke="#000" stroke-width="1.0"/>
<line x1="101.2" y1="180.92" x2="104.4" y2="180.92" stroke="#000" stroke-width="1.0"/>
<line x1="101.2" y1="177.55" x2="104.4" y2="177.55" stroke="#000" stroke-width="1.0"/>
<line x1="101.2" y1="174.57" x2="104.4" y2="174.57" stroke="#000" stroke-width="1.0"/>
<line x1="98.8" y1="171.9" x2="104.4" y2="171.9" stroke="#000" stroke-width="1.3"/>
<text x="92.5" y="180.2" font-size="23.6" text-anchor="end">10<tspan font-size="16.99" dy="-8.9">1</tspan></text>
<line x1="101.2" y1="154.37" x2="104.4" y2="154.37" stroke="#000" stroke-width="1.0"/>
<line x1="101.2" y1="144.11" x2="104.4" y2="144.11" stroke="#000" stroke-width="1.0"/>
<line x1="101.2" y1="136.83" x2="104.4" y2="136.83" stroke="#000" stroke-width="1.0"/>
<line x1="101.2" y1="131.18" x2="104.4" y2="131.18" stroke="#000" stroke-width="1.0"/>
<line x1="101.2" y1="126.57" x2="104.4" y2="126.57" stroke="#000" stroke-width="1.0"/>
<line x1="101.2" y1="122.67" x2="104.4" y2="122.67" stroke="#000" stroke-width="1.0"/>
<line x1="101.2" y1="119.3" x2="104.4" y2="119.3" stroke="#000" stroke-width="1.0"/>
<line x1="101.2" y1="116.32" x2="104.4" y2="116.32" stroke="#000" stroke-width="1.0"/>
<line x1="98.8" y1="113.65" x2="104.4" y2="113.65" stroke="#000" stroke-width="1.3"/>
<text x="92.5" y="121.95" font-size="23.6" text-anchor="end">10<tspan font-size="16.99" dy="-8.9">2</tspan></text>
<line x1="101.2" y1="96.12" x2="104.4" y2="96.12" stroke="#000" stroke-width="1.0"/>
<line x1="101.2" y1="85.86" x2="104.4" y2="85.86" stroke="#000" stroke-width="1.0"/>
<line x1="101.2" y1="78.58" x2="104.4" y2="78.58" stroke="#000" stroke-width="1.0"/>
<line x1="101.2" y1="72.93" x2="104.4" y2="72.93" stroke="#000" stroke-width="1.0"/>
<line x1="101.2" y1="68.32" x2="104.4" y2="68.32" stroke="#000" stroke-width="1.0"/>
<line x1="101.2" y1="64.42" x2="104.4" y2="64.42" stroke="#000" stroke-width="1.0"/>
<line x1="101.2" y1="61.05" x2="104.4" y2="61.05" stroke="#000" stroke-width="1.0"/>
<line x1="101.2" y1="58.07" x2="104.4" y2="58.07" stroke="#000" stroke-width="1.0"/>
<line x1="98.8" y1="55.4" x2="104.4" y2="55.4" stroke="#000" stroke-width="1.3"/>
<text x="92.5" y="63.7" font-size="23.6" text-anchor="end">10<tspan font-size="16.99" dy="-8.9">3</tspan></text>
<line x1="101.2" y1="37.87" x2="104.4" y2="37.87" stroke="#000" stroke-width="1.0"/>
<line x1="101.2" y1="27.61" x2="104.4" y2="27.61" stroke="#000" stroke-width="1.0"/>
<line x1="101.2" y1="20.33" x2="104.4" y2="20.33" stroke="#000" stroke-width="1.0"/>
<line x1="101.2" y1="14.68" x2="104.4" y2="14.68" stroke="#000" stroke-width="1.0"/>
<line x1="101.2" y1="10.07" x2="104.4" y2="10.07" stroke="#000" stroke-width="1.0"/>
<line x1="101.2" y1="6.17" x2="104.4" y2="6.17" stroke="#000" stroke-width="1.0"/>
<text x="329.2" y="493.9" font-size="28.8">Trait difference Δ</text>
<text transform="translate(27,237.4) rotate(-90)" font-size="28.8" text-anchor="middle">Minima and maxima of biomass</text>
<rect x="911.3" y="3.9" width="728.9" height="426.2" fill="none" stroke="#000" stroke-width="1.3"/>
<line x1="952.5" y1="430.1" x2="952.5" y2="435.7" stroke="#000" stroke-width="1.3"/>
<text x="952.5" y="458.2" font-size="23.6" text-anchor="middle">0.2</text>
<line x1="1034.2" y1="430.1" x2="1034.2" y2="435.7" stroke="#000" stroke-width="1.3"/>
<text x="1034.2" y="458.2" font-size="23.6" text-anchor="middle">0.3</text>
<line x1="1115.9" y1="430.1" x2="1115.9" y2="435.7" stroke="#000" stroke-width="1.3"/>
<text x="1115.9" y="458.2" font-size="23.6" text-anchor="middle">0.4</text>
<line x1="1197.6" y1="430.1" x2="1197.6" y2="435.7" stroke="#000" stroke-width="1.3"/>
<text x="1197.6" y="458.2" font-size="23.6" text-anchor="middle">0.5</text>
<line x1="1279.3" y1="430.1" x2="1279.3" y2="435.7" stroke="#000" stroke-width="1.3"/>
<text x="1279.3" y="458.2" font-size="23.6" text-anchor="middle">0.6</text>
<line x1="1361" y1="430.1" x2="1361" y2="435.7" stroke="#000" stroke-width="1.3"/>
<text x="1361" y="458.2" font-size="23.6" text-anchor="middle">0.7</text>
<line x1="1442.7" y1="430.1" x2="1442.7" y2="435.7" stroke="#000" stroke-width="1.3"/>
<text x="1442.7" y="458.2" font-size="23.6" text-anchor="middle">0.8</text>
<line x1="1524.4" y1="430.1" x2="1524.4" y2="435.7" stroke="#000" stroke-width="1.3"/>
<text x="1524.4" y="458.2" font-size="23.6" text-anchor="middle">0.9</text>
<line x1="1606.1" y1="430.1" x2="1606.1" y2="435.7" stroke="#000" stroke-width="1.3"/>
<text x="1606.1" y="458.2" font-size="23.6" text-anchor="middle">1.0</text>
<line x1="908.1" y1="417.2" x2="911.3" y2="417.2" stroke="#000" stroke-width="1.0"/>
<line x1="908.1" y1="383.04" x2="911.3" y2="383.04" stroke="#000" stroke-width="1.0"/>
<line x1="908.1" y1="358.8" x2="911.3" y2="358.8" stroke="#000" stroke-width="1.0"/>
<line x1="908.1" y1="340" x2="911.3" y2="340" stroke="#000" stroke-width="1.0"/>
<line x1="908.1" y1="324.64" x2="911.3" y2="324.64" stroke="#000" stroke-width="1.0"/>
<line x1="908.1" y1="311.65" x2="911.3" y2="311.65" stroke="#000" stroke-width="1.0"/>
<line x1="908.1" y1="300.4" x2="911.3" y2="300.4" stroke="#000" stroke-width="1.0"/>
<line x1="908.1" y1="290.48" x2="911.3" y2="290.48" stroke="#000" stroke-width="1.0"/>
<line x1="905.7" y1="281.6" x2="911.3" y2="281.6" stroke="#000" stroke-width="1.3"/>
<text x="899.4" y="289.9" font-size="23.6" text-anchor="end">10<tspan font-size="16.99" dy="-8.9">2</tspan></text>
<line x1="908.1" y1="223.2" x2="911.3" y2="223.2" stroke="#000" stroke-width="1.0"/>
<line x1="908.1" y1="189.04" x2="911.3" y2="189.04" stroke="#000" stroke-width="1.0"/>
<line x1="908.1" y1="164.8" x2="911.3" y2="164.8" stroke="#000" stroke-width="1.0"/>
<line x1="908.1" y1="146" x2="911.3" y2="146" stroke="#000" stroke-width="1.0"/>
<line x1="908.1" y1="130.64" x2="911.3" y2="130.64" stroke="#000" stroke-width="1.0"/>
<line x1="908.1" y1="117.65" x2="911.3" y2="117.65" stroke="#000" stroke-width="1.0"/>
<line x1="908.1" y1="106.4" x2="911.3" y2="106.4" stroke="#000" stroke-width="1.0"/>
<line x1="908.1" y1="96.48" x2="911.3" y2="96.48" stroke="#000" stroke-width="1.0"/>
<line x1="905.7" y1="87.6" x2="911.3" y2="87.6" stroke="#000" stroke-width="1.3"/>
<text x="899.4" y="95.9" font-size="23.6" text-anchor="end">10<tspan font-size="16.99" dy="-8.9">3</tspan></text>
<line x1="908.1" y1="29.2" x2="911.3" y2="29.2" stroke="#000" stroke-width="1.0"/>
<text x="1156.2" y="493.2" font-size="28.8">Trait difference Δ</text>
<text transform="translate(852.7,236.9) rotate(-90)" font-size="28.8" text-anchor="middle">Minima and maxima of biomass</text>
<rect x="88.2" y="609.3" width="731.2" height="454.6" fill="none" stroke="#000" stroke-width="1.3"/>
<line x1="121" y1="1063.9" x2="121" y2="1069.5" stroke="#000" stroke-width="1.3"/>
<text x="121" y="1092.3" font-size="23.6" text-anchor="middle">0.0</text>
<line x1="254.6" y1="1063.9" x2="254.6" y2="1069.5" stroke="#000" stroke-width="1.3"/>
<text x="254.6" y="1092.3" font-size="23.6" text-anchor="middle">0.2</text>
<line x1="388.2" y1="1063.9" x2="388.2" y2="1069.5" stroke="#000" stroke-width="1.3"/>
<text x="388.2" y="1092.3" font-size="23.6" text-anchor="middle">0.4</text>
<line x1="521.8" y1="1063.9" x2="521.8" y2="1069.5" stroke="#000" stroke-width="1.3"/>
<text x="521.8" y="1092.3" font-size="23.6" text-anchor="middle">0.6</text>
<line x1="655.4" y1="1063.9" x2="655.4" y2="1069.5" stroke="#000" stroke-width="1.3"/>
<text x="655.4" y="1092.3" font-size="23.6" text-anchor="middle">0.8</text>
<line x1="789" y1="1063.9" x2="789" y2="1069.5" stroke="#000" stroke-width="1.3"/>
<text x="789" y="1092.3" font-size="23.6" text-anchor="middle">1.0</text>
<line x1="82.6" y1="1063.9" x2="88.2" y2="1063.9" stroke="#000" stroke-width="1.3"/>
<text x="76.3" y="1072.2" font-size="23.6" text-anchor="end">10<tspan font-size="16.99" dy="-8.9">1</tspan></text>
<line x1="85" y1="995.48" x2="88.2" y2="995.48" stroke="#000" stroke-width="1.0"/>
<line x1="85" y1="955.45" x2="88.2" y2="955.45" stroke="#000" stroke-width="1.0"/>
<line x1="85" y1="927.05" x2="88.2" y2="927.05" stroke="#000" stroke-width="1.0"/>
<line x1="85" y1="905.02" x2="88.2" y2="905.02" stroke="#000" stroke-width="1.0"/>
<line x1="85" y1="887.03" x2="88.2" y2="887.03" stroke="#000" stroke-width="1.0"/>
<line x1="85" y1="871.81" x2="88.2" y2="871.81" stroke="#000" stroke-width="1.0"/>
<line x1="85" y1="858.63" x2="88.2" y2="858.63" stroke="#000" stroke-width="1.0"/>
<line x1="85" y1="847" x2="88.2" y2="847" stroke="#000" stroke-width="1.0"/>
<line x1="82.6" y1="836.6" x2="88.2" y2="836.6" stroke="#000" stroke-width="1.3"/>
<text x="76.3" y="844.9" font-size="23.6" text-anchor="end">10<tspan font-size="16.99" dy="-8.9">2</tspan></text>
<line x1="85" y1="768.18" x2="88.2" y2="768.18" stroke="#000" stroke-width="1.0"/>
<line x1="85" y1="728.15" x2="88.2" y2="728.15" stroke="#000" stroke-width="1.0"/>
<line x1="85" y1="699.75" x2="88.2" y2="699.75" stroke="#000" stroke-width="1.0"/>
<line x1="85" y1="677.72" x2="88.2" y2="677.72" stroke="#000" stroke-width="1.0"/>
<line x1="85" y1="659.73" x2="88.2" y2="659.73" stroke="#000" stroke-width="1.0"/>
<line x1="85" y1="644.51" x2="88.2" y2="644.51" stroke="#000" stroke-width="1.0"/>
<line x1="85" y1="631.33" x2="88.2" y2="631.33" stroke="#000" stroke-width="1.0"/>
<line x1="85" y1="619.7" x2="88.2" y2="619.7" stroke="#000" stroke-width="1.0"/>
<line x1="82.6" y1="609.3" x2="88.2" y2="609.3" stroke="#000" stroke-width="1.3"/>
<text x="76.3" y="617.6" font-size="23.6" text-anchor="end">10<tspan font-size="16.99" dy="-8.9">3</tspan></text>
<text x="329.2" y="1122.4" font-size="28.8">Trait difference Δ</text>
<text transform="translate(23.3,836.6) rotate(-90)" font-size="28.8" text-anchor="middle">mean biomass</text>
<rect x="911.3" y="609.5" width="731.1" height="454.5" fill="none" stroke="#000" stroke-width="1.3"/>
<line x1="952.9" y1="1064" x2="952.9" y2="1069.6" stroke="#000" stroke-width="1.3"/>
<text x="952.9" y="1093" font-size="23.6" text-anchor="middle">0.2</text>
<line x1="1035.1" y1="1064" x2="1035.1" y2="1069.6" stroke="#000" stroke-width="1.3"/>
<text x="1035.1" y="1093" font-size="23.6" text-anchor="middle">0.3</text>
<line x1="1117.3" y1="1064" x2="1117.3" y2="1069.6" stroke="#000" stroke-width="1.3"/>
<text x="1117.3" y="1093" font-size="23.6" text-anchor="middle">0.4</text>
<line x1="1199.5" y1="1064" x2="1199.5" y2="1069.6" stroke="#000" stroke-width="1.3"/>
<text x="1199.5" y="1093" font-size="23.6" text-anchor="middle">0.5</text>
<line x1="1281.7" y1="1064" x2="1281.7" y2="1069.6" stroke="#000" stroke-width="1.3"/>
<text x="1281.7" y="1093" font-size="23.6" text-anchor="middle">0.6</text>
<line x1="1363.9" y1="1064" x2="1363.9" y2="1069.6" stroke="#000" stroke-width="1.3"/>
<text x="1363.9" y="1093" font-size="23.6" text-anchor="middle">0.7</text>
<line x1="1446.1" y1="1064" x2="1446.1" y2="1069.6" stroke="#000" stroke-width="1.3"/>
<text x="1446.1" y="1093" font-size="23.6" text-anchor="middle">0.8</text>
<line x1="1528.3" y1="1064" x2="1528.3" y2="1069.6" stroke="#000" stroke-width="1.3"/>
<text x="1528.3" y="1093" font-size="23.6" text-anchor="middle">0.9</text>
<line x1="1610.5" y1="1064" x2="1610.5" y2="1069.6" stroke="#000" stroke-width="1.3"/>
<text x="1610.5" y="1093" font-size="23.6" text-anchor="middle">1.0</text>
<line x1="908.1" y1="1056.67" x2="911.3" y2="1056.67" stroke="#000" stroke-width="1.0"/>
<line x1="908.1" y1="1039.49" x2="911.3" y2="1039.49" stroke="#000" stroke-width="1.0"/>
<line x1="908.1" y1="1025.44" x2="911.3" y2="1025.44" stroke="#000" stroke-width="1.0"/>
<line x1="908.1" y1="1013.57" x2="911.3" y2="1013.57" stroke="#000" stroke-width="1.0"/>
<line x1="908.1" y1="1003.29" x2="911.3" y2="1003.29" stroke="#000" stroke-width="1.0"/>
<line x1="908.1" y1="994.22" x2="911.3" y2="994.22" stroke="#000" stroke-width="1.0"/>
<line x1="905.7" y1="986.1" x2="911.3" y2="986.1" stroke="#000" stroke-width="1.3"/>
<text x="899.4" y="994.4" font-size="23.6" text-anchor="end">10<tspan font-size="16.99" dy="-8.9">1</tspan></text>
<line x1="908.1" y1="932.71" x2="911.3" y2="932.71" stroke="#000" stroke-width="1.0"/>
<line x1="908.1" y1="901.48" x2="911.3" y2="901.48" stroke="#000" stroke-width="1.0"/>
<line x1="908.1" y1="879.32" x2="911.3" y2="879.32" stroke="#000" stroke-width="1.0"/>
<line x1="908.1" y1="862.14" x2="911.3" y2="862.14" stroke="#000" stroke-width="1.0"/>
<line x1="908.1" y1="848.09" x2="911.3" y2="848.09" stroke="#000" stroke-width="1.0"/>
<line x1="908.1" y1="836.22" x2="911.3" y2="836.22" stroke="#000" stroke-width="1.0"/>
<line x1="908.1" y1="825.94" x2="911.3" y2="825.94" stroke="#000" stroke-width="1.0"/>
<line x1="908.1" y1="816.87" x2="911.3" y2="816.87" stroke="#000" stroke-width="1.0"/>
<line x1="905.7" y1="808.75" x2="911.3" y2="808.75" stroke="#000" stroke-width="1.3"/>
<text x="899.4" y="817.05" font-size="23.6" text-anchor="end">10<tspan font-size="16.99" dy="-8.9">2</tspan></text>
<line x1="908.1" y1="755.36" x2="911.3" y2="755.36" stroke="#000" stroke-width="1.0"/>
<line x1="908.1" y1="724.13" x2="911.3" y2="724.13" stroke="#000" stroke-width="1.0"/>
<line x1="908.1" y1="701.97" x2="911.3" y2="701.97" stroke="#000" stroke-width="1.0"/>
<line x1="908.1" y1="684.79" x2="911.3" y2="684.79" stroke="#000" stroke-width="1.0"/>
<line x1="908.1" y1="670.74" x2="911.3" y2="670.74" stroke="#000" stroke-width="1.0"/>
<line x1="908.1" y1="658.87" x2="911.3" y2="658.87" stroke="#000" stroke-width="1.0"/>
<line x1="908.1" y1="648.59" x2="911.3" y2="648.59" stroke="#000" stroke-width="1.0"/>
<line x1="908.1" y1="639.52" x2="911.3" y2="639.52" stroke="#000" stroke-width="1.0"/>
<line x1="905.7" y1="631.4" x2="911.3" y2="631.4" stroke="#000" stroke-width="1.3"/>
<text x="899.4" y="639.7" font-size="23.6" text-anchor="end">10<tspan font-size="16.99" dy="-8.9">3</tspan></text>
<text x="1156.2" y="1122.2" font-size="28.8">Trait difference Δ</text>
<text transform="translate(846.7,836.6) rotate(-90)" font-size="28.8" text-anchor="middle">mean biomass</text>
<rect x="83.7" y="1131.6" width="735.5" height="456.4" fill="none" stroke="#000" stroke-width="1.3"/>
<line x1="117" y1="1588" x2="117" y2="1593.6" stroke="#000" stroke-width="1.3"/>
<text x="117" y="1617.3" font-size="23.6" text-anchor="middle">0.0</text>
<line x1="250.9" y1="1588" x2="250.9" y2="1593.6" stroke="#000" stroke-width="1.3"/>
<text x="250.9" y="1617.3" font-size="23.6" text-anchor="middle">0.2</text>
<line x1="384.8" y1="1588" x2="384.8" y2="1593.6" stroke="#000" stroke-width="1.3"/>
<text x="384.8" y="1617.3" font-size="23.6" text-anchor="middle">0.4</text>
<line x1="518.7" y1="1588" x2="518.7" y2="1593.6" stroke="#000" stroke-width="1.3"/>
<text x="518.7" y="1617.3" font-size="23.6" text-anchor="middle">0.6</text>
<line x1="652.6" y1="1588" x2="652.6" y2="1593.6" stroke="#000" stroke-width="1.3"/>
<text x="652.6" y="1617.3" font-size="23.6" text-anchor="middle">0.8</text>
<line x1="786.5" y1="1588" x2="786.5" y2="1593.6" stroke="#000" stroke-width="1.3"/>
<text x="786.5" y="1617.3" font-size="23.6" text-anchor="middle">1.0</text>
<line x1="78.1" y1="1558.9" x2="83.7" y2="1558.9" stroke="#000" stroke-width="1.3"/>
<text x="71.1" y="1567.5" font-size="23.6" text-anchor="end">0.2</text>
<line x1="78.1" y1="1501.5" x2="83.7" y2="1501.5" stroke="#000" stroke-width="1.3"/>
<text x="71.1" y="1510.1" font-size="23.6" text-anchor="end">0.4</text>
<line x1="78.1" y1="1444.1" x2="83.7" y2="1444.1" stroke="#000" stroke-width="1.3"/>
<text x="71.1" y="1452.7" font-size="23.6" text-anchor="end">0.6</text>
<line x1="78.1" y1="1386.7" x2="83.7" y2="1386.7" stroke="#000" stroke-width="1.3"/>
<text x="71.1" y="1395.3" font-size="23.6" text-anchor="end">0.8</text>
<line x1="78.1" y1="1329.3" x2="83.7" y2="1329.3" stroke="#000" stroke-width="1.3"/>
<text x="71.1" y="1337.9" font-size="23.6" text-anchor="end">1.0</text>
<line x1="78.1" y1="1271.9" x2="83.7" y2="1271.9" stroke="#000" stroke-width="1.3"/>
<text x="71.1" y="1280.5" font-size="23.6" text-anchor="end">1.2</text>
<line x1="78.1" y1="1214.5" x2="83.7" y2="1214.5" stroke="#000" stroke-width="1.3"/>
<text x="71.1" y="1223.1" font-size="23.6" text-anchor="end">1.4</text>
<line x1="78.1" y1="1157.1" x2="83.7" y2="1157.1" stroke="#000" stroke-width="1.3"/>
<text x="71.1" y="1165.7" font-size="23.6" text-anchor="end">1.6</text>
<text x="329.2" y="1647.1" font-size="28.8">Trait difference Δ</text>
<text transform="translate(22.5,1358.9) rotate(-90)" font-size="28.8" text-anchor="middle">CV</text>
<rect x="907.2" y="1131.6" width="734.4" height="456.4" fill="none" stroke="#000" stroke-width="1.3"/>
<line x1="949.3" y1="1588" x2="949.3" y2="1593.6" stroke="#000" stroke-width="1.3"/>
<text x="949.3" y="1617" font-size="23.6" text-anchor="middle">0.2</text>
<line x1="1031.9" y1="1588" x2="1031.9" y2="1593.6" stroke="#000" stroke-width="1.3"/>
<text x="1031.9" y="1617" font-size="23.6" text-anchor="middle">0.3</text>
<line x1="1114.5" y1="1588" x2="1114.5" y2="1593.6" stroke="#000" stroke-width="1.3"/>
<text x="1114.5" y="1617" font-size="23.6" text-anchor="middle">0.4</text>
<line x1="1197.1" y1="1588" x2="1197.1" y2="1593.6" stroke="#000" stroke-width="1.3"/>
<text x="1197.1" y="1617" font-size="23.6" text-anchor="middle">0.5</text>
<line x1="1279.7" y1="1588" x2="1279.7" y2="1593.6" stroke="#000" stroke-width="1.3"/>
<text x="1279.7" y="1617" font-size="23.6" text-anchor="middle">0.6</text>
<line x1="1362.3" y1="1588" x2="1362.3" y2="1593.6" stroke="#000" stroke-width="1.3"/>
<text x="1362.3" y="1617" font-size="23.6" text-anchor="middle">0.7</text>
<line x1="1444.9" y1="1588" x2="1444.9" y2="1593.6" stroke="#000" stroke-width="1.3"/>
<text x="1444.9" y="1617" font-size="23.6" text-anchor="middle">0.8</text>
<line x1="1527.5" y1="1588" x2="1527.5" y2="1593.6" stroke="#000" stroke-width="1.3"/>
<text x="1527.5" y="1617" font-size="23.6" text-anchor="middle">0.9</text>
<line x1="1610.1" y1="1588" x2="1610.1" y2="1593.6" stroke="#000" stroke-width="1.3"/>
<text x="1610.1" y="1617" font-size="23.6" text-anchor="middle">1.0</text>
<line x1="901.6" y1="1566.7" x2="907.2" y2="1566.7" stroke="#000" stroke-width="1.3"/>
<text x="894.6" y="1575.3" font-size="23.6" text-anchor="end">0.0</text>
<line x1="901.6" y1="1482.7" x2="907.2" y2="1482.7" stroke="#000" stroke-width="1.3"/>
<text x="894.6" y="1491.3" font-size="23.6" text-anchor="end">0.5</text>
<line x1="901.6" y1="1398.7" x2="907.2" y2="1398.7" stroke="#000" stroke-width="1.3"/>
<text x="894.6" y="1407.3" font-size="23.6" text-anchor="end">1.0</text>
<line x1="901.6" y1="1314.7" x2="907.2" y2="1314.7" stroke="#000" stroke-width="1.3"/>
<text x="894.6" y="1323.3" font-size="23.6" text-anchor="end">1.5</text>
<line x1="901.6" y1="1230.7" x2="907.2" y2="1230.7" stroke="#000" stroke-width="1.3"/>
<text x="894.6" y="1239.3" font-size="23.6" text-anchor="end">2.0</text>
<line x1="901.6" y1="1146.7" x2="907.2" y2="1146.7" stroke="#000" stroke-width="1.3"/>
<text x="894.6" y="1155.3" font-size="23.6" text-anchor="end">2.5</text>
<text x="1156.2" y="1646.6" font-size="28.8">Trait difference Δ</text>
<text transform="translate(846.2,1358.9) rotate(-90)" font-size="28.8" text-anchor="middle">CV</text>
<rect x="115.4" y="9.9" width="68.5" height="51.9" fill="#fff" fill-opacity="0.8" stroke="#cccccc" stroke-width="1.3"/><text x="115.2" y="49.9" font-size="47.0">(a)</text>
<rect x="922.9" y="13.4" width="68.5" height="51.9" fill="#fff" fill-opacity="0.8" stroke="#cccccc" stroke-width="1.3"/><text x="922.7" y="51.8" font-size="47.0">(b)</text>
<rect x="91.8" y="614.6" width="68.5" height="51.9" fill="#fff" fill-opacity="0.8" stroke="#cccccc" stroke-width="1.3"/><text x="93.3" y="654.8" font-size="47.0">(c)</text>
<rect x="919.8" y="614.6" width="68.5" height="51.9" fill="#fff" fill-opacity="0.8" stroke="#cccccc" stroke-width="1.3"/><text x="923.1" y="655.4" font-size="47.0">(d)</text>
<rect x="90.4" y="1136.6" width="68.5" height="51.9" fill="#fff" fill-opacity="0.8" stroke="#cccccc" stroke-width="1.3"/><text x="90.1" y="1175.9" font-size="47.0">(e)</text>
<rect x="915.4" y="1136.2" width="68.5" height="51.9" fill="#fff" fill-opacity="0.8" stroke="#cccccc" stroke-width="1.3"/><text x="922.6" y="1175.9" font-size="47.0">(f)</text>
<rect x="661.5" y="363.7" width="144" height="52.5" rx="4.5" fill="#fff" fill-opacity="0.8" stroke="#d6d6d6" stroke-width="1.3"/><line x1="672.4" y1="388" x2="734.1" y2="388" stroke="#2b8a55" stroke-width="2.4"/><text x="756.6" y="397.6" font-size="29.5" font-style="italic">B</text><text x="779.1" y="386" font-size="20.6">d</text>
<rect x="925.8" y="363.1" width="143.8" height="52" rx="4.5" fill="#fff" fill-opacity="0.8" stroke="#d6d6d6" stroke-width="1.3"/><line x1="936.8" y1="386.5" x2="997.9" y2="386.5" stroke="#2b8a55" stroke-width="2.4"/><text x="1020.2" y="396.1" font-size="29.5" font-style="italic">B</text><text x="1042.7" y="384.5" font-size="20.6">d</text>
<rect x="20.6" y="515.7" width="1617.8" height="65.6" rx="6" fill="#fff" stroke="#cdcdcd" stroke-width="3.0"/>
<line x1="30" y1="546.7" x2="101.8" y2="546.7" stroke="#82c8f7" stroke-width="8.5"/><text x="121.2" y="557.3000000000001" font-size="32.6" font-style="italic">N</text>
<line x1="206" y1="546.7" x2="277.6" y2="546.7" stroke="#71bb70" stroke-width="8.5"/><text x="298.2" y="557.3000000000001" font-size="32.6" font-style="italic">B</text><text x="323.5" y="544.5" font-size="22.8">u</text>
<line x1="397.8" y1="546.7" x2="470" y2="546.7" stroke="#1d5937" stroke-width="8.5"/><text x="490" y="557.3000000000001" font-size="32.6" font-style="italic">B</text><text x="515.3" y="544.5" font-size="22.8">d</text>
<line x1="594.1" y1="546.7" x2="626.2" y2="546.7" stroke="#f2a05a" stroke-width="8.5"/><line x1="640.2" y1="546.7" x2="657.5" y2="546.7" stroke="#f2a05a" stroke-width="8.5"/><text x="681.7" y="557.3000000000001" font-size="32.6" font-style="italic">I</text><text x="694.8" y="544.5" font-size="22.8">u</text><text x="692.5" y="565.2" font-size="22.8">s</text>
<line x1="775" y1="546.7" x2="807.1" y2="546.7" stroke="#d0621a" stroke-width="8.5"/><line x1="821.1" y1="546.7" x2="838.4" y2="546.7" stroke="#d0621a" stroke-width="8.5"/><text x="862.2" y="557.3000000000001" font-size="32.6" font-style="italic">I</text><text x="875.3" y="544.5" font-size="22.8">d</text><text x="873" y="565.2" font-size="22.8">s</text>
<line x1="950.4" y1="546.7" x2="1022" y2="546.7" stroke="#f2a05a" stroke-width="8.5"/><text x="1042.7" y="557.3000000000001" font-size="32.6" font-style="italic">I</text><text x="1055.8" y="544.5" font-size="22.8">u</text><text x="1053.5" y="565.2" font-size="22.8">n</text>
<line x1="1131" y1="546.7" x2="1202.5" y2="546.7" stroke="#d0621a" stroke-width="8.5"/><text x="1222.9" y="557.3000000000001" font-size="32.6" font-style="italic">I</text><text x="1236" y="544.5" font-size="22.8">d</text><text x="1233.7" y="565.2" font-size="22.8">n</text>
<line x1="1314.9" y1="546.7" x2="1347" y2="546.7" stroke="#8a1828" stroke-width="8.5"/><line x1="1361" y1="546.7" x2="1378.3" y2="546.7" stroke="#8a1828" stroke-width="8.5"/><text x="1402.7" y="557.3000000000001" font-size="32.6" font-style="italic">T</text><text x="1423" y="562.9000000000001" font-size="22.8">s</text>
<line x1="1496.1" y1="546.7" x2="1568.3" y2="546.7" stroke="#8a1828" stroke-width="8.5"/><text x="1590" y="557.3000000000001" font-size="32.6" font-style="italic">T</text><text x="1610.3" y="562.9000000000001" font-size="22.8">n</text>
</svg>
</body></html>
